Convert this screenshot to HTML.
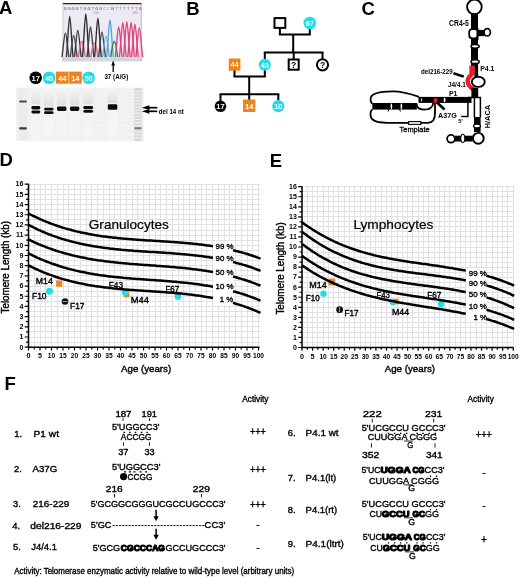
<!DOCTYPE html>
<html><head><meta charset="utf-8"><style>
html,body{margin:0;padding:0;background:#fff;width:520px;height:577px;overflow:hidden}
svg{display:block;filter:blur(0.3px);font-family:"Liberation Sans", sans-serif}
</style></head><body>
<svg width="520" height="577" viewBox="0 0 520 577">
<rect width="520" height="577" fill="#fff"/>
<text x="-1" y="14.4" font-size="18.5" font-weight="bold" text-anchor="start" fill="#000" >A</text>
<text x="186.3" y="14.6" font-size="18.5" font-weight="bold" text-anchor="start" fill="#000" >B</text>
<text x="361.6" y="15" font-size="18.5" font-weight="bold" text-anchor="start" fill="#000" >C</text>
<text x="-0.5" y="166.2" font-size="18.5" font-weight="bold" text-anchor="start" fill="#000" >D</text>
<text x="269.8" y="166.5" font-size="18.5" font-weight="bold" text-anchor="start" fill="#000" >E</text>
<text x="4.6" y="389.5" font-size="18.5" font-weight="bold" text-anchor="start" fill="#000" >F</text>
<defs><filter id="bl3" x="-5%" y="-5%" width="110%" height="110%"><feGaussianBlur stdDeviation="0.35"/></filter></defs>
<rect x="62.7" y="3.5" width="78.8" height="57.8" fill="#ebeaf5"/>
<rect x="62.7" y="57.6" width="78.8" height="3.7" fill="#d2d5da"/>
<line x1="62.7" y1="3.6" x2="141.5" y2="3.6" stroke="#222" stroke-width="1.4"/>
<line x1="141.2" y1="3.5" x2="141.2" y2="61" stroke="#aaa" stroke-width="0.8"/>
<line x1="62.9" y1="3.5" x2="62.9" y2="61" stroke="#bbb" stroke-width="0.6"/>
<text x="65.2" y="9.8" font-size="3.8" font-weight="bold" text-anchor="middle" fill="#707088" >G</text>
<text x="69.15" y="9.8" font-size="3.8" font-weight="bold" text-anchor="middle" fill="#707088" >G</text>
<text x="73.1" y="9.8" font-size="3.8" font-weight="bold" text-anchor="middle" fill="#707088" >G</text>
<text x="77.05" y="9.8" font-size="3.8" font-weight="bold" text-anchor="middle" fill="#707088" >G</text>
<text x="81.0" y="9.8" font-size="3.8" font-weight="bold" text-anchor="middle" fill="#d0789a" >T</text>
<text x="84.95" y="9.8" font-size="3.8" font-weight="bold" text-anchor="middle" fill="#707088" >G</text>
<text x="88.9" y="9.8" font-size="3.8" font-weight="bold" text-anchor="middle" fill="#707088" >G</text>
<text x="92.85" y="9.8" font-size="3.8" font-weight="bold" text-anchor="middle" fill="#d0789a" >T</text>
<text x="96.8" y="9.8" font-size="3.8" font-weight="bold" text-anchor="middle" fill="#707088" >G</text>
<text x="100.75" y="9.8" font-size="3.8" font-weight="bold" text-anchor="middle" fill="#707088" >G</text>
<text x="104.7" y="9.8" font-size="3.8" font-weight="bold" text-anchor="middle" fill="#8cb8dc" >C</text>
<text x="108.65" y="9.8" font-size="3.8" font-weight="bold" text-anchor="middle" fill="#8cb8dc" >C</text>
<text x="112.6" y="9.8" font-size="3.8" font-weight="bold" text-anchor="middle" fill="#707088" >N</text>
<text x="116.55" y="9.8" font-size="3.8" font-weight="bold" text-anchor="middle" fill="#d0789a" >T</text>
<text x="120.5" y="9.8" font-size="3.8" font-weight="bold" text-anchor="middle" fill="#d0789a" >T</text>
<text x="124.45" y="9.8" font-size="3.8" font-weight="bold" text-anchor="middle" fill="#d0789a" >T</text>
<text x="128.4" y="9.8" font-size="3.8" font-weight="bold" text-anchor="middle" fill="#d0789a" >T</text>
<text x="132.35" y="9.8" font-size="3.8" font-weight="bold" text-anchor="middle" fill="#d0789a" >T</text>
<text x="136.3" y="9.8" font-size="3.8" font-weight="bold" text-anchor="middle" fill="#d0789a" >T</text>
<text x="140.25" y="9.8" font-size="3.8" font-weight="bold" text-anchor="middle" fill="#707088" >G</text>
<text x="96" y="13.6" font-size="3.6" text-anchor="middle" fill="#d87a9a" >230</text>
<text x="135" y="13.6" font-size="3.6" text-anchor="middle" fill="#d87a9a" >180</text>
<g filter="url(#bl3)"><path d="M62.00000000000001,57.2 C63.45,45.2 64.4,33 65.4,33 C66.4,33 67.35000000000001,45.2 68.8,57.2" fill="none" stroke="#3a3a3a" stroke-width="1.35"/><path d="M66.30000000000001,57.2 C67.75,45.2 68.7,16.4 69.7,16.4 C70.7,16.4 71.65,45.2 73.1,57.2" fill="none" stroke="#333" stroke-width="1.35"/><path d="M70.30000000000001,57.2 C71.75,45.2 72.7,35.5 73.7,35.5 C74.7,35.5 75.65,45.2 77.1,57.2" fill="none" stroke="#4a4a4a" stroke-width="1.35"/><path d="M74.4,57.2 C75.85,45.2 76.8,30.3 77.8,30.3 C78.8,30.3 79.75,45.2 81.19999999999999,57.2" fill="none" stroke="#3a3a3a" stroke-width="1.35"/><path d="M78.4,57.2 C79.85,45.2 80.8,41.5 81.8,41.5 C82.8,41.5 83.75,45.2 85.19999999999999,57.2" fill="none" stroke="#e0608a" stroke-width="1.35"/><path d="M82.4,57.2 C83.85,45.2 84.8,13.8 85.8,13.8 C86.8,13.8 87.75,45.2 89.19999999999999,57.2" fill="none" stroke="#2a2a2a" stroke-width="1.35"/><path d="M87.10000000000001,57.2 C88.55,45.2 89.5,26.8 90.5,26.8 C91.5,26.8 92.45,45.2 93.89999999999999,57.2" fill="none" stroke="#444" stroke-width="1.35"/><path d="M91.00000000000001,57.2 C92.45,45.2 93.4,43 94.4,43 C95.4,43 96.35000000000001,45.2 97.8,57.2" fill="none" stroke="#e0608a" stroke-width="1.35"/><path d="M94.50000000000001,57.2 C95.95,45.2 96.9,18.2 97.9,18.2 C98.9,18.2 99.85000000000001,45.2 101.3,57.2" fill="none" stroke="#2a2a2a" stroke-width="1.35"/><path d="M98.60000000000001,57.2 C100.05,45.2 101.0,32 102,32 C103.0,32 103.95,45.2 105.39999999999999,57.2" fill="none" stroke="#444" stroke-width="1.35"/><path d="M102.60000000000001,57.2 C104.05,45.2 105.0,36.3 106,36.3 C107.0,36.3 107.95,45.2 109.39999999999999,57.2" fill="none" stroke="#5fb0e0" stroke-width="1.35"/><path d="M106.60000000000001,57.2 C108.05,45.2 109.0,19.9 110,19.9 C111.0,19.9 111.95,45.2 113.39999999999999,57.2" fill="none" stroke="#4aa8e0" stroke-width="1.35"/><path d="M110.80000000000001,57.2 C112.25,45.2 113.2,41.5 114.2,41.5 C115.2,41.5 116.15,45.2 117.6,57.2" fill="none" stroke="#1f8a30" stroke-width="1.35"/><path d="M115.30000000000001,57.2 C116.75,45.2 117.7,26.8 118.7,26.8 C119.7,26.8 120.65,45.2 122.1,57.2" fill="none" stroke="#e0457a" stroke-width="1.35"/><path d="M119.4,57.2 C120.85,45.2 121.8,22.5 122.8,22.5 C123.8,22.5 124.75,45.2 126.19999999999999,57.2" fill="none" stroke="#e0457a" stroke-width="1.35"/><path d="M123.4,57.2 C124.85,45.2 125.8,21.6 126.8,21.6 C127.8,21.6 128.75,45.2 130.20000000000002,57.2" fill="none" stroke="#e0457a" stroke-width="1.35"/><path d="M127.7,57.2 C129.15,45.2 130.1,22.5 131.1,22.5 C132.1,22.5 133.04999999999998,45.2 134.5,57.2" fill="none" stroke="#e0457a" stroke-width="1.35"/><path d="M131.5,57.2 C132.95000000000002,45.2 133.9,24.2 134.9,24.2 C135.9,24.2 136.85,45.2 138.3,57.2" fill="none" stroke="#e0457a" stroke-width="1.35"/><path d="M135.9,57.2 C137.35000000000002,45.2 138.3,27.7 139.3,27.7 C140.3,27.7 141.25,45.2 142.70000000000002,57.2" fill="none" stroke="#e0457a" stroke-width="1.35"/></g>
<line x1="113.2" y1="64" x2="113.2" y2="72" stroke="#000" stroke-width="1.3"/>
<path d="M113.2,60.5 L111.3,65.5 L115.1,65.5 Z" fill="#000"/>
<text x="104.4" y="79.4" font-size="7.8" font-weight="bold" text-anchor="start" fill="#000" textLength="23.9" lengthAdjust="spacingAndGlyphs" >37 (A/G)</text>
<defs><linearGradient id="lane" x1="0" y1="0" x2="0" y2="1"><stop offset="0" stop-color="#f6f6f6"/><stop offset="0.55" stop-color="#e9e9e9"/><stop offset="1" stop-color="#dedede"/></linearGradient><filter id="blur05" x="-5%" y="-5%" width="110%" height="110%"><feGaussianBlur stdDeviation="0.5"/></filter></defs>
<rect x="16" y="87.5" width="127.8" height="53.8" fill="#f3f3f3"/>
<g filter="url(#blur05)"><rect x="16" y="89.5" width="127.8" height="0.7" fill="#ededed"/><rect x="16" y="92.0" width="127.8" height="0.7" fill="#ededed"/><rect x="16" y="94.5" width="127.8" height="0.7" fill="#ededed"/><rect x="16" y="97.0" width="127.8" height="0.7" fill="#ededed"/><rect x="16" y="99.5" width="127.8" height="0.7" fill="#ededed"/><rect x="16" y="102.0" width="127.8" height="0.7" fill="#ededed"/><rect x="16" y="104.5" width="127.8" height="0.7" fill="#ededed"/><rect x="16" y="107.0" width="127.8" height="0.7" fill="#ededed"/><rect x="16" y="109.5" width="127.8" height="0.7" fill="#ededed"/><rect x="16" y="112.0" width="127.8" height="0.7" fill="#ededed"/><rect x="16" y="114.5" width="127.8" height="0.7" fill="#ededed"/><rect x="16" y="117.0" width="127.8" height="0.7" fill="#ededed"/><rect x="16" y="119.5" width="127.8" height="0.7" fill="#ededed"/><rect x="16" y="122.0" width="127.8" height="0.7" fill="#ededed"/><rect x="16" y="124.5" width="127.8" height="0.7" fill="#ededed"/><rect x="16" y="127.0" width="127.8" height="0.7" fill="#ededed"/><rect x="16" y="129.5" width="127.8" height="0.7" fill="#ededed"/><rect x="16" y="132.0" width="127.8" height="0.7" fill="#ededed"/><rect x="16" y="134.5" width="127.8" height="0.7" fill="#ededed"/><rect x="16" y="137.0" width="127.8" height="0.7" fill="#ededed"/><rect x="16" y="139.5" width="127.8" height="0.7" fill="#ededed"/><rect x="31.3" y="88" width="9.099999999999998" height="16.5" fill="url(#lane)"/><rect x="31.3" y="104.5" width="9.099999999999998" height="36.5" fill="#f4f4f4"/><rect x="43.8" y="88" width="9.800000000000004" height="18.5" fill="url(#lane)"/><rect x="43.8" y="106.5" width="9.800000000000004" height="34.5" fill="#f4f4f4"/><rect x="56.9" y="88" width="9.500000000000007" height="17.5" fill="url(#lane)"/><rect x="56.9" y="105.5" width="9.500000000000007" height="35.5" fill="#f4f4f4"/><rect x="69.9" y="88" width="9.5" height="17.5" fill="url(#lane)"/><rect x="69.9" y="105.5" width="9.5" height="35.5" fill="#f4f4f4"/><rect x="83.2" y="88" width="10.0" height="16.5" fill="url(#lane)"/><rect x="83.2" y="104.5" width="10.0" height="36.5" fill="#f4f4f4"/><rect x="107.6" y="88" width="9.800000000000011" height="15" fill="url(#lane)"/><rect x="107.6" y="103" width="9.800000000000011" height="38" fill="#f4f4f4"/><rect x="18.5" y="88" width="9" height="52" fill="#ececec"/><rect x="19.2" y="100.5" width="7.6" height="2" rx="0.8" fill="#4a4a4a"/><rect x="19.2" y="127.3" width="7.6" height="2.2" rx="0.8" fill="#3a3a3a"/><rect x="31.4" y="105.9" width="8.899999999999999" height="3.5" rx="1.4" fill="#0c0c0c"/><rect x="31.4" y="110.5" width="8.899999999999999" height="2.9000000000000057" rx="1.4" fill="#0c0c0c"/><rect x="44" y="107.7" width="9.600000000000001" height="2.799999999999997" rx="1.4" fill="#0c0c0c"/><rect x="44" y="111.3" width="9.600000000000001" height="2.700000000000003" rx="1.4" fill="#0c0c0c"/><rect x="57" y="106.5" width="9.400000000000006" height="4.5" rx="1.4" fill="#0c0c0c"/><rect x="70" y="106.5" width="9.299999999999997" height="4.5" rx="1.4" fill="#0c0c0c"/><rect x="83.3" y="106" width="9.799999999999997" height="3.200000000000003" rx="1.4" fill="#0c0c0c"/><rect x="83.3" y="109.9" width="9.799999999999997" height="2.799999999999997" rx="1.4" fill="#0c0c0c"/><rect x="107.8" y="104.2" width="9.5" height="5.599999999999994" rx="1.4" fill="#0c0c0c"/><rect x="134.2" y="88" width="7.6" height="53.2" fill="#d9d9d9"/><rect x="134.2" y="91.0" width="7.6" height="1.1" fill="#f0f0f0"/><rect x="134.2" y="94.1" width="7.6" height="1.1" fill="#f0f0f0"/><rect x="134.2" y="97.2" width="7.6" height="1.1" fill="#f0f0f0"/><rect x="134.2" y="100.3" width="7.6" height="1.1" fill="#f0f0f0"/><rect x="134.2" y="103.4" width="7.6" height="1.1" fill="#f0f0f0"/><rect x="134.2" y="106.5" width="7.6" height="1.1" fill="#f0f0f0"/><rect x="134.2" y="109.6" width="7.6" height="1.1" fill="#f0f0f0"/><rect x="134.2" y="112.7" width="7.6" height="1.1" fill="#f0f0f0"/><rect x="134.2" y="115.8" width="7.6" height="1.1" fill="#f0f0f0"/><rect x="134.2" y="118.9" width="7.6" height="1.1" fill="#f0f0f0"/><rect x="134.2" y="122.0" width="7.6" height="1.1" fill="#f0f0f0"/><rect x="134.2" y="125.1" width="7.6" height="1.1" fill="#f0f0f0"/><rect x="134.2" y="128.2" width="7.6" height="1.1" fill="#f0f0f0"/><rect x="134.2" y="131.3" width="7.6" height="1.1" fill="#f0f0f0"/><rect x="134.2" y="134.4" width="7.6" height="1.1" fill="#f0f0f0"/><rect x="134.2" y="137.5" width="7.6" height="1.1" fill="#f0f0f0"/><rect x="134.4" y="127.3" width="7.2" height="1.9" fill="#777"/></g>
<line x1="148" y1="107.7" x2="157.3" y2="107.7" stroke="#000" stroke-width="1.7"/>
<path d="M141.9,107.7 L149.3,105.3 L149.3,110.10000000000001 Z" fill="#000"/>
<line x1="148" y1="111.3" x2="157.3" y2="111.3" stroke="#000" stroke-width="1.7"/>
<path d="M141.9,111.3 L149.3,108.89999999999999 L149.3,113.7 Z" fill="#000"/>
<text x="158.8" y="113.9" font-size="7.3" font-weight="bold" text-anchor="start" fill="#000" textLength="25" lengthAdjust="spacingAndGlyphs" >del 14 nt</text>
<circle cx="35.7" cy="77.7" r="6.3" fill="#000"/>
<text x="35.7" y="80.5" font-size="7.5" font-weight="bold" text-anchor="middle" fill="#fff" >17</text>
<circle cx="49.1" cy="77.7" r="6.3" fill="#22dde8"/>
<text x="49.1" y="80.5" font-size="7.5" font-weight="bold" text-anchor="middle" fill="#fff" >40</text>
<rect x="55.8" y="71.6" width="26" height="12.1" fill="#f0841c"/>
<line x1="68.8" y1="71.6" x2="68.8" y2="83.7" stroke="#fff" stroke-width="0.5"/>
<text x="62.3" y="80.5" font-size="7.5" font-weight="bold" text-anchor="middle" fill="#fff" >44</text>
<text x="75.3" y="80.5" font-size="7.5" font-weight="bold" text-anchor="middle" fill="#fff" >14</text>
<circle cx="88.6" cy="77.7" r="6.3" fill="#22dde8"/>
<text x="88.6" y="80.5" font-size="7.5" font-weight="bold" text-anchor="middle" fill="#fff" >50</text>
<line x1="279.9" y1="28" x2="279.9" y2="34.4" stroke="#000" stroke-width="2"/>
<line x1="309.8" y1="28.5" x2="309.8" y2="34.4" stroke="#000" stroke-width="2"/>
<line x1="278.9" y1="34.4" x2="310.8" y2="34.4" stroke="#000" stroke-width="2"/>
<rect x="274.5" y="18.1" width="10.8" height="9.8" fill="#fff" stroke="#000" stroke-width="2"/>
<circle cx="309.8" cy="23" r="6.3" fill="#22dde8"/>
<text x="309.8" y="25.8" font-size="7.5" font-weight="bold" text-anchor="middle" fill="#fff" >67</text>
<line x1="293.2" y1="34.4" x2="293.2" y2="52.5" stroke="#000" stroke-width="2"/>
<line x1="263.8" y1="52.5" x2="323.5" y2="52.5" stroke="#000" stroke-width="2"/>
<line x1="264.8" y1="52.5" x2="264.8" y2="59" stroke="#000" stroke-width="2"/>
<line x1="293.7" y1="52.5" x2="293.7" y2="59" stroke="#000" stroke-width="2"/>
<line x1="322.5" y1="52.5" x2="322.5" y2="59" stroke="#000" stroke-width="2"/>
<rect x="228.8" y="58.5" width="11.6" height="12.2" fill="#f0841c"/>
<text x="234.6" y="67.4" font-size="7.5" font-weight="bold" text-anchor="middle" fill="#fff" >44</text>
<circle cx="264.8" cy="64.8" r="6.1" fill="#22dde8"/>
<text x="264.8" y="67.6" font-size="7.5" font-weight="bold" text-anchor="middle" fill="#fff" >43</text>
<rect x="288.7" y="59.5" width="10" height="10.2" fill="#fff" stroke="#000" stroke-width="2"/>
<text x="293.7" y="67.8" font-size="8.5" font-weight="bold" text-anchor="middle" fill="#000" >?</text>
<circle cx="322.5" cy="64.8" r="5.6" fill="#fff" stroke="#000" stroke-width="2"/>
<text x="322.5" y="67.8" font-size="8.5" font-weight="bold" text-anchor="middle" fill="#000" >?</text>
<line x1="234.5" y1="70.5" x2="234.5" y2="76.5" stroke="#000" stroke-width="2"/>
<line x1="264.8" y1="70.5" x2="264.8" y2="76.5" stroke="#000" stroke-width="2"/>
<line x1="233.5" y1="76.5" x2="265.8" y2="76.5" stroke="#000" stroke-width="2"/>
<line x1="249.2" y1="76.5" x2="249.2" y2="94.2" stroke="#000" stroke-width="2"/>
<line x1="219.5" y1="94.2" x2="279.3" y2="94.2" stroke="#000" stroke-width="2"/>
<line x1="220.5" y1="94.2" x2="220.5" y2="101" stroke="#000" stroke-width="2"/>
<line x1="249.2" y1="94.2" x2="249.2" y2="100" stroke="#000" stroke-width="2"/>
<line x1="278.3" y1="94.2" x2="278.3" y2="100.5" stroke="#000" stroke-width="2"/>
<circle cx="220.5" cy="106.3" r="5.8" fill="#000"/>
<text x="220.5" y="109.1" font-size="7.5" font-weight="bold" text-anchor="middle" fill="#fff" >17</text>
<rect x="243" y="99.5" width="12.4" height="12.5" fill="#f0841c"/>
<text x="249.2" y="108.6" font-size="7.5" font-weight="bold" text-anchor="middle" fill="#fff" >14</text>
<circle cx="278.3" cy="106.1" r="6.1" fill="#22dde8"/>
<text x="278.3" y="108.9" font-size="7.5" font-weight="bold" text-anchor="middle" fill="#fff" >10</text>
<circle cx="474.4" cy="6.9" r="7.3" fill="#fff" stroke="#000" stroke-width="1.9"/>
<rect x="471" y="13.6" width="7" height="16" fill="#000"/>
<rect x="469.2" y="29" width="8.6" height="9.3" rx="3" fill="#fff" stroke="#000" stroke-width="1.75"/>
<rect x="476.6" y="28" width="1.9" height="12" fill="#000"/>
<rect x="478" y="29.9" width="6.6" height="6.2" fill="#000"/>
<ellipse cx="487.2" cy="32.3" rx="3.2" ry="3.7" fill="#fff" stroke="#000" stroke-width="1.7"/>
<rect x="471" y="38" width="7" height="28" fill="#000"/>
<ellipse cx="475.1" cy="46.3" rx="4.1" ry="1.9" fill="#fff" stroke="#000" stroke-width="1.5"/>
<ellipse cx="475.1" cy="61.7" rx="4.1" ry="1.9" fill="#fff" stroke="#000" stroke-width="1.5"/>
<rect x="474.3" y="64.5" width="3.8" height="13" fill="#000"/>
<rect x="469.4" y="65.6" width="5.1" height="10" fill="#ec1c24"/>
<ellipse cx="478.3" cy="81.8" rx="6.5" ry="5.1" fill="#fff" stroke="#000" stroke-width="1.9"/>
<path d="M471.9,74.5 C465.8,78.5 466.2,85.5 474,89.6" fill="none" stroke="#ec1c24" stroke-width="4.3"/>
<rect x="471.4" y="87.8" width="6.8" height="10" fill="#000"/>
<rect x="418.5" y="96.9" width="53" height="6" fill="#000"/>
<ellipse cx="444.6" cy="99.9" rx="0.9" ry="2.3" fill="#fff"/>
<ellipse cx="421.6" cy="99.9" rx="0.5" ry="1.8" fill="#fff"/>
<rect x="433.8" y="98.4" width="3.6" height="4.6" fill="#ec1c24"/>
<line x1="436.5" y1="102" x2="444.5" y2="109.5" stroke="#000" stroke-width="2.6"/>
<path d="M461.2,116.4 L467.9,116.4 L467.9,98" fill="none" stroke="#000" stroke-width="1.5"/>
<path d="M468.2,97.6 L480.4,97.6 L480.4,117.5 M474.4,97.6 L474.4,117.5" fill="none" stroke="#000" stroke-width="1.5"/>
<rect x="474" y="117" width="6.6" height="15" fill="#000"/>
<ellipse cx="477" cy="126" rx="3.5" ry="1.9" fill="#fff" stroke="#000" stroke-width="1.2"/>
<circle cx="478.3" cy="138.3" r="5.4" fill="#fff" stroke="#000" stroke-width="1.9"/>
<rect x="455" y="135.7" width="17.5" height="5.8" fill="#000"/>
<ellipse cx="462.8" cy="138.4" rx="2" ry="4.1" fill="#fff" stroke="#000" stroke-width="1.1"/>
<circle cx="451" cy="138.8" r="3.9" fill="#fff" stroke="#000" stroke-width="1.8"/>
<path d="M419,96.9 C410,93.5 402,91.3 392.5,91.3 C380,91.3 370.6,93.5 370.6,99 C370.6,102 371.5,103.3 372.5,103.6" fill="none" stroke="#000" stroke-width="1.8"/>
<rect x="372.3" y="103" width="44.5" height="6.6" fill="#000"/>
<ellipse cx="391.4" cy="106.3" rx="0.8" ry="3.1" fill="#fff"/>
<ellipse cx="401.4" cy="106.3" rx="0.8" ry="3.1" fill="#fff"/>
<path d="M389,109.5 L388,111.5 M399.5,109.5 L400.5,111.5" stroke="#000" stroke-width="1"/>
<path d="M416.5,103.3 C416.5,108 419,109.6 424,109.6 C429,109.6 432.8,107.5 433.2,103" fill="none" stroke="#000" stroke-width="1.8"/>
<path d="M372.5,109.5 C370.6,110.5 370.3,113 370.6,116 C371.5,121 377,122.8 392,122.8 L408.3,122.8" fill="none" stroke="#000" stroke-width="1.8"/>
<path d="M421,122.8 L428,122.8 C432.5,122.8 435,119 435,113 L435,103" fill="none" stroke="#000" stroke-width="1.8"/>
<rect x="408.6" y="121.6" width="12.2" height="2.8" fill="#fff" stroke="#000" stroke-width="1.1"/>
<line x1="453.5" y1="73.2" x2="463.8" y2="76.6" stroke="#000" stroke-width="2.5"/>
<text x="449.1" y="25.9" font-size="8.2" font-weight="bold" text-anchor="start" fill="#000" textLength="19.7" lengthAdjust="spacingAndGlyphs" >CR4-5</text>
<text x="480.2" y="71.4" font-size="7.6" font-weight="bold" text-anchor="start" fill="#000" textLength="14.2" lengthAdjust="spacingAndGlyphs" >P4.1</text>
<text x="421" y="74.3" font-size="7.8" font-weight="bold" text-anchor="start" fill="#000" textLength="31.7" lengthAdjust="spacingAndGlyphs" >del216-229</text>
<text x="448" y="86.6" font-size="7.8" font-weight="bold" text-anchor="start" fill="#000" textLength="17.8" lengthAdjust="spacingAndGlyphs" >J4/4.1</text>
<text x="448.9" y="95.9" font-size="7.8" font-weight="bold" text-anchor="start" fill="#000" textLength="8.6" lengthAdjust="spacingAndGlyphs" >P1</text>
<text x="438.1" y="117.7" font-size="7.8" font-weight="bold" text-anchor="start" fill="#000" textLength="18.8" lengthAdjust="spacingAndGlyphs" >A37G</text>
<text x="458.3" y="123.2" font-size="5.8" font-weight="bold" text-anchor="start" fill="#000" >5'</text>
<text x="399.6" y="131.6" font-size="7.8" text-anchor="start" fill="#000" textLength="30" lengthAdjust="spacingAndGlyphs" stroke="#000" stroke-width="0.3">Template</text>
<text x="0" y="0" font-size="7.8" font-weight="bold" textLength="23.5" lengthAdjust="spacingAndGlyphs" transform="translate(489.7,128.3) rotate(-90)">H/ACA</text>
<path d="M28.50,184.16V347.20M34.25,184.16V347.20M40.00,184.16V347.20M45.75,184.16V347.20M51.50,184.16V347.20M57.25,184.16V347.20M63.00,184.16V347.20M68.75,184.16V347.20M74.50,184.16V347.20M80.25,184.16V347.20M86.00,184.16V347.20M91.75,184.16V347.20M97.50,184.16V347.20M103.25,184.16V347.20M109.00,184.16V347.20M114.75,184.16V347.20M120.50,184.16V347.20M126.25,184.16V347.20M132.00,184.16V347.20M137.75,184.16V347.20M143.50,184.16V347.20M149.25,184.16V347.20M155.00,184.16V347.20M160.75,184.16V347.20M166.50,184.16V347.20M172.25,184.16V347.20M178.00,184.16V347.20M183.75,184.16V347.20M189.50,184.16V347.20M195.25,184.16V347.20M201.00,184.16V347.20M206.75,184.16V347.20M212.50,184.16V347.20M218.25,184.16V347.20M224.00,184.16V347.20M229.75,184.16V347.20M235.50,184.16V347.20M241.25,184.16V347.20M247.00,184.16V347.20M252.75,184.16V347.20M258.50,184.16V347.20M28.50,347.20H259.50M28.50,342.10H259.50M28.50,337.01H259.50M28.50,331.91H259.50M28.50,326.82H259.50M28.50,321.72H259.50M28.50,316.63H259.50M28.50,311.53H259.50M28.50,306.44H259.50M28.50,301.34H259.50M28.50,296.25H259.50M28.50,291.15H259.50M28.50,286.06H259.50M28.50,280.96H259.50M28.50,275.87H259.50M28.50,270.77H259.50M28.50,265.68H259.50M28.50,260.58H259.50M28.50,255.49H259.50M28.50,250.39H259.50M28.50,245.30H259.50M28.50,240.20H259.50M28.50,235.11H259.50M28.50,230.01H259.50M28.50,224.92H259.50M28.50,219.82H259.50M28.50,214.73H259.50M28.50,209.63H259.50M28.50,204.54H259.50M28.50,199.44H259.50M28.50,194.35H259.50M28.50,189.25H259.50M28.50,184.16H259.50" stroke="#dfe2e5" stroke-width="1" fill="none" shape-rendering="crispEdges"/>
<path d="M28.5,183.66V347.2H259.5" stroke="#000" stroke-width="1.5" fill="none"/>
<path d="M24.70,347.20H28.5M26.10,342.10H28.5M24.70,337.01H28.5M26.10,331.91H28.5M24.70,326.82H28.5M26.10,321.72H28.5M24.70,316.63H28.5M26.10,311.53H28.5M24.70,306.44H28.5M26.10,301.34H28.5M24.70,296.25H28.5M26.10,291.15H28.5M24.70,286.06H28.5M26.10,280.96H28.5M24.70,275.87H28.5M26.10,270.77H28.5M24.70,265.68H28.5M26.10,260.58H28.5M24.70,255.49H28.5M26.10,250.39H28.5M24.70,245.30H28.5M26.10,240.20H28.5M24.70,235.11H28.5M26.10,230.01H28.5M24.70,224.92H28.5M26.10,219.82H28.5M24.70,214.73H28.5M26.10,209.63H28.5M24.70,204.54H28.5M26.10,199.44H28.5M24.70,194.35H28.5M26.10,189.25H28.5M24.70,184.16H28.5M28.50,347.2V350.50M34.25,347.2V349.50M40.00,347.2V350.50M45.75,347.2V349.50M51.50,347.2V350.50M57.25,347.2V349.50M63.00,347.2V350.50M68.75,347.2V349.50M74.50,347.2V350.50M80.25,347.2V349.50M86.00,347.2V350.50M91.75,347.2V349.50M97.50,347.2V350.50M103.25,347.2V349.50M109.00,347.2V350.50M114.75,347.2V349.50M120.50,347.2V350.50M126.25,347.2V349.50M132.00,347.2V350.50M137.75,347.2V349.50M143.50,347.2V350.50M149.25,347.2V349.50M155.00,347.2V350.50M160.75,347.2V349.50M166.50,347.2V350.50M172.25,347.2V349.50M178.00,347.2V350.50M183.75,347.2V349.50M189.50,347.2V350.50M195.25,347.2V349.50M201.00,347.2V350.50M206.75,347.2V349.50M212.50,347.2V350.50M218.25,347.2V349.50M224.00,347.2V350.50M229.75,347.2V349.50M235.50,347.2V350.50M241.25,347.2V349.50M247.00,347.2V350.50M252.75,347.2V349.50M258.50,347.2V350.50" stroke="#000" stroke-width="1.2" fill="none"/>
<text x="23.3" y="349.5" font-size="7" font-weight="bold" text-anchor="end" fill="#000" >0</text>
<text x="23.3" y="339.31" font-size="7" font-weight="bold" text-anchor="end" fill="#000" >1</text>
<text x="23.3" y="329.12" font-size="7" font-weight="bold" text-anchor="end" fill="#000" >2</text>
<text x="23.3" y="318.93" font-size="7" font-weight="bold" text-anchor="end" fill="#000" >3</text>
<text x="23.3" y="308.74" font-size="7" font-weight="bold" text-anchor="end" fill="#000" >4</text>
<text x="23.3" y="298.55" font-size="7" font-weight="bold" text-anchor="end" fill="#000" >5</text>
<text x="23.3" y="288.36" font-size="7" font-weight="bold" text-anchor="end" fill="#000" >6</text>
<text x="23.3" y="278.17" font-size="7" font-weight="bold" text-anchor="end" fill="#000" >7</text>
<text x="23.3" y="267.98" font-size="7" font-weight="bold" text-anchor="end" fill="#000" >8</text>
<text x="23.3" y="257.79" font-size="7" font-weight="bold" text-anchor="end" fill="#000" >9</text>
<text x="23.3" y="247.6" font-size="7" font-weight="bold" text-anchor="end" fill="#000" >10</text>
<text x="23.3" y="237.41" font-size="7" font-weight="bold" text-anchor="end" fill="#000" >11</text>
<text x="23.3" y="227.22" font-size="7" font-weight="bold" text-anchor="end" fill="#000" >12</text>
<text x="23.3" y="217.03" font-size="7" font-weight="bold" text-anchor="end" fill="#000" >13</text>
<text x="23.3" y="206.84" font-size="7" font-weight="bold" text-anchor="end" fill="#000" >14</text>
<text x="23.3" y="196.65" font-size="7" font-weight="bold" text-anchor="end" fill="#000" >15</text>
<text x="23.3" y="186.46" font-size="7" font-weight="bold" text-anchor="end" fill="#000" >16</text>
<text x="28.5" y="358.4" font-size="7.2" font-weight="bold" text-anchor="middle" fill="#000" >0</text>
<text x="40.0" y="358.4" font-size="7.2" font-weight="bold" text-anchor="middle" fill="#000" >5</text>
<text x="51.5" y="358.4" font-size="7.2" font-weight="bold" text-anchor="middle" fill="#000" textLength="7.4" lengthAdjust="spacingAndGlyphs" >10</text>
<text x="63.0" y="358.4" font-size="7.2" font-weight="bold" text-anchor="middle" fill="#000" textLength="7.4" lengthAdjust="spacingAndGlyphs" >15</text>
<text x="74.5" y="358.4" font-size="7.2" font-weight="bold" text-anchor="middle" fill="#000" textLength="7.4" lengthAdjust="spacingAndGlyphs" >20</text>
<text x="86.0" y="358.4" font-size="7.2" font-weight="bold" text-anchor="middle" fill="#000" textLength="7.4" lengthAdjust="spacingAndGlyphs" >25</text>
<text x="97.5" y="358.4" font-size="7.2" font-weight="bold" text-anchor="middle" fill="#000" textLength="7.4" lengthAdjust="spacingAndGlyphs" >30</text>
<text x="109.0" y="358.4" font-size="7.2" font-weight="bold" text-anchor="middle" fill="#000" textLength="7.4" lengthAdjust="spacingAndGlyphs" >35</text>
<text x="120.5" y="358.4" font-size="7.2" font-weight="bold" text-anchor="middle" fill="#000" textLength="7.4" lengthAdjust="spacingAndGlyphs" >40</text>
<text x="132.0" y="358.4" font-size="7.2" font-weight="bold" text-anchor="middle" fill="#000" textLength="7.4" lengthAdjust="spacingAndGlyphs" >45</text>
<text x="143.5" y="358.4" font-size="7.2" font-weight="bold" text-anchor="middle" fill="#000" textLength="7.4" lengthAdjust="spacingAndGlyphs" >50</text>
<text x="155.0" y="358.4" font-size="7.2" font-weight="bold" text-anchor="middle" fill="#000" textLength="7.4" lengthAdjust="spacingAndGlyphs" >55</text>
<text x="166.5" y="358.4" font-size="7.2" font-weight="bold" text-anchor="middle" fill="#000" textLength="7.4" lengthAdjust="spacingAndGlyphs" >60</text>
<text x="178.0" y="358.4" font-size="7.2" font-weight="bold" text-anchor="middle" fill="#000" textLength="7.4" lengthAdjust="spacingAndGlyphs" >65</text>
<text x="189.5" y="358.4" font-size="7.2" font-weight="bold" text-anchor="middle" fill="#000" textLength="7.4" lengthAdjust="spacingAndGlyphs" >70</text>
<text x="201.0" y="358.4" font-size="7.2" font-weight="bold" text-anchor="middle" fill="#000" textLength="7.4" lengthAdjust="spacingAndGlyphs" >75</text>
<text x="212.5" y="358.4" font-size="7.2" font-weight="bold" text-anchor="middle" fill="#000" textLength="7.4" lengthAdjust="spacingAndGlyphs" >80</text>
<text x="224.0" y="358.4" font-size="7.2" font-weight="bold" text-anchor="middle" fill="#000" textLength="7.4" lengthAdjust="spacingAndGlyphs" >85</text>
<text x="235.5" y="358.4" font-size="7.2" font-weight="bold" text-anchor="middle" fill="#000" textLength="7.4" lengthAdjust="spacingAndGlyphs" >90</text>
<text x="247.0" y="358.4" font-size="7.2" font-weight="bold" text-anchor="middle" fill="#000" textLength="7.4" lengthAdjust="spacingAndGlyphs" >95</text>
<text x="258.5" y="358.4" font-size="7.2" font-weight="bold" text-anchor="middle" fill="#000" textLength="11" lengthAdjust="spacingAndGlyphs" >100</text>
<text x="88.8" y="228.8" font-size="13.5" text-anchor="start" fill="#000" textLength="80" lengthAdjust="spacingAndGlyphs" stroke="#000" stroke-width="0.22">Granulocytes</text>
<rect x="56.1" y="280.5" width="6.2" height="6.2" fill="#f0841c"/>
<circle cx="49.5" cy="291.2" r="3.5" fill="#22dde8"/>
<circle cx="65" cy="301.5" r="3.3" fill="#111"/><line x1="62.5" y1="301.5" x2="67.5" y2="301.5" stroke="#fff" stroke-width="0.6"/>
<circle cx="125.2" cy="292.6" r="3.3" fill="#22dde8"/>
<rect x="123.85" y="291.85" width="5.5" height="5.5" fill="#f0841c"/>
<circle cx="125.4" cy="292.3" r="3.2" fill="#22dde8"/>
<circle cx="178" cy="296.5" r="3.4" fill="#22dde8"/>
<rect x="213" y="241" width="20.30000000000001" height="64.5" fill="#fff"/>
<path d="M28.5,213.5 L30.0,214.3 L31.5,215.0 L33.0,215.8 L34.5,216.5 L36.0,217.2 L37.5,217.9 L39.0,218.6 L40.5,219.3 L42.0,219.9 L43.5,220.6 L45.0,221.2 L46.5,221.8 L48.0,222.4 L49.5,223.0 L51.0,223.6 L52.5,224.1 L54.0,224.7 L55.5,225.2 L57.0,225.7 L58.5,226.2 L60.0,226.7 L61.5,227.2 L63.0,227.7 L64.5,228.1 L66.0,228.6 L67.5,229.0 L69.0,229.4 L70.5,229.8 L72.0,230.2 L73.5,230.6 L75.0,231.0 L76.5,231.4 L78.0,231.7 L79.5,232.1 L81.0,232.4 L82.5,232.7 L84.0,233.0 L85.5,233.3 L87.0,233.6 L88.5,233.9 L90.0,234.2 L91.5,234.5 L93.0,234.7 L94.5,235.0 L96.0,235.2 L97.5,235.5 L99.0,235.7 L100.5,235.9 L102.0,236.2 L103.5,236.4 L105.0,236.6 L106.5,236.8 L108.0,237.0 L109.5,237.2 L111.0,237.3 L112.5,237.5 L114.0,237.7 L115.5,237.8 L117.0,238.0 L118.5,238.2 L120.0,238.3 L121.5,238.4 L123.0,238.6 L124.5,238.7 L126.0,238.8 L127.5,239.0 L129.0,239.1 L130.5,239.2 L132.0,239.3 L133.5,239.4 L135.0,239.6 L136.5,239.7 L138.0,239.8 L139.5,239.9 L141.0,240.0 L142.5,240.1 L144.0,240.2 L145.5,240.3 L147.0,240.4 L148.5,240.5 L150.0,240.6 L151.5,240.6 L153.0,240.7 L154.5,240.8 L156.0,240.9 L157.5,241.0 L159.0,241.1 L160.5,241.2 L162.0,241.3 L163.5,241.4 L165.0,241.5 L166.5,241.6 L168.0,241.7 L169.5,241.8 L171.0,241.9 L172.5,242.0 L174.0,242.1 L175.5,242.2 L177.0,242.3 L178.5,242.4 L180.0,242.5 L181.5,242.7 L183.0,242.8 L184.5,242.9 L186.0,243.0 L187.5,243.2 L189.0,243.3 L190.5,243.5 L192.0,243.6 L193.5,243.8 L195.0,243.9 L196.5,244.1 L198.0,244.3 L199.5,244.4 L201.0,244.6 L202.5,244.8 L204.0,245.0 L205.5,245.2 L207.0,245.4 L208.5,245.6 L210.0,245.8 L211.5,246.1 L213.0,246.3" stroke="#000" stroke-width="2.5" fill="none" stroke-linecap="butt"/>
<path d="M233.0,250.2 L234.5,250.6 L236.0,250.9 L237.5,251.3 L239.0,251.7 L240.5,252.1 L242.0,252.5 L243.5,252.9 L245.0,253.4 L246.5,253.8 L248.0,254.3 L249.5,254.8 L251.0,255.2 L252.5,255.7 L254.0,256.2 L255.5,256.8 L257.0,257.3 L258.5,257.9 L260.0,258.4 L260.5,258.6" stroke="#000" stroke-width="2.5" fill="none" stroke-linecap="butt"/>
<path d="M28.5,224.9 L30.0,225.7 L31.5,226.5 L33.0,227.2 L34.5,228.0 L36.0,228.7 L37.5,229.4 L39.0,230.1 L40.5,230.7 L42.0,231.4 L43.5,232.0 L45.0,232.7 L46.5,233.3 L48.0,233.9 L49.5,234.5 L51.0,235.0 L52.5,235.6 L54.0,236.1 L55.5,236.6 L57.0,237.2 L58.5,237.7 L60.0,238.2 L61.5,238.6 L63.0,239.1 L64.5,239.5 L66.0,240.0 L67.5,240.4 L69.0,240.8 L70.5,241.2 L72.0,241.6 L73.5,242.0 L75.0,242.4 L76.5,242.8 L78.0,243.1 L79.5,243.4 L81.0,243.8 L82.5,244.1 L84.0,244.4 L85.5,244.7 L87.0,245.0 L88.5,245.3 L90.0,245.6 L91.5,245.9 L93.0,246.1 L94.5,246.4 L96.0,246.6 L97.5,246.8 L99.0,247.1 L100.5,247.3 L102.0,247.5 L103.5,247.7 L105.0,247.9 L106.5,248.1 L108.0,248.3 L109.5,248.5 L111.0,248.7 L112.5,248.8 L114.0,249.0 L115.5,249.2 L117.0,249.3 L118.5,249.5 L120.0,249.6 L121.5,249.8 L123.0,249.9 L124.5,250.0 L126.0,250.2 L127.5,250.3 L129.0,250.4 L130.5,250.5 L132.0,250.6 L133.5,250.8 L135.0,250.9 L136.5,251.0 L138.0,251.1 L139.5,251.2 L141.0,251.3 L142.5,251.4 L144.0,251.5 L145.5,251.6 L147.0,251.7 L148.5,251.8 L150.0,251.9 L151.5,252.0 L153.0,252.1 L154.5,252.1 L156.0,252.2 L157.5,252.3 L159.0,252.4 L160.5,252.5 L162.0,252.6 L163.5,252.7 L165.0,252.8 L166.5,252.9 L168.0,253.0 L169.5,253.1 L171.0,253.2 L172.5,253.3 L174.0,253.4 L175.5,253.6 L177.0,253.7 L178.5,253.8 L180.0,253.9 L181.5,254.0 L183.0,254.2 L184.5,254.3 L186.0,254.4 L187.5,254.6 L189.0,254.7 L190.5,254.9 L192.0,255.0 L193.5,255.2 L195.0,255.4 L196.5,255.5 L198.0,255.7 L199.5,255.9 L201.0,256.1 L202.5,256.3 L204.0,256.5 L205.5,256.7 L207.0,256.9 L208.5,257.1 L210.0,257.4 L211.5,257.6 L213.0,257.9" stroke="#000" stroke-width="2.5" fill="none" stroke-linecap="butt"/>
<path d="M233.0,262.0 L234.5,262.4 L236.0,262.8 L237.5,263.2 L239.0,263.6 L240.5,264.0 L242.0,264.4 L243.5,264.9 L245.0,265.3 L246.5,265.8 L248.0,266.3 L249.5,266.8 L251.0,267.3 L252.5,267.8 L254.0,268.3 L255.5,268.9 L257.0,269.5 L258.5,270.0 L260.0,270.6 L260.5,270.8" stroke="#000" stroke-width="2.5" fill="none" stroke-linecap="butt"/>
<path d="M28.5,239.5 L30.0,240.2 L31.5,240.9 L33.0,241.6 L34.5,242.3 L36.0,243.0 L37.5,243.6 L39.0,244.3 L40.5,244.9 L42.0,245.5 L43.5,246.1 L45.0,246.7 L46.5,247.3 L48.0,247.9 L49.5,248.4 L51.0,248.9 L52.5,249.5 L54.0,250.0 L55.5,250.5 L57.0,251.0 L58.5,251.4 L60.0,251.9 L61.5,252.3 L63.0,252.8 L64.5,253.2 L66.0,253.6 L67.5,254.0 L69.0,254.4 L70.5,254.8 L72.0,255.2 L73.5,255.5 L75.0,255.9 L76.5,256.2 L78.0,256.6 L79.5,256.9 L81.0,257.2 L82.5,257.5 L84.0,257.8 L85.5,258.1 L87.0,258.4 L88.5,258.7 L90.0,258.9 L91.5,259.2 L93.0,259.5 L94.5,259.7 L96.0,259.9 L97.5,260.2 L99.0,260.4 L100.5,260.6 L102.0,260.8 L103.5,261.0 L105.0,261.2 L106.5,261.4 L108.0,261.6 L109.5,261.8 L111.0,262.0 L112.5,262.1 L114.0,262.3 L115.5,262.5 L117.0,262.6 L118.5,262.8 L120.0,262.9 L121.5,263.1 L123.0,263.2 L124.5,263.3 L126.0,263.5 L127.5,263.6 L129.0,263.7 L130.5,263.9 L132.0,264.0 L133.5,264.1 L135.0,264.2 L136.5,264.3 L138.0,264.4 L139.5,264.6 L141.0,264.7 L142.5,264.8 L144.0,264.9 L145.5,265.0 L147.0,265.1 L148.5,265.2 L150.0,265.3 L151.5,265.4 L153.0,265.5 L154.5,265.6 L156.0,265.7 L157.5,265.9 L159.0,266.0 L160.5,266.1 L162.0,266.2 L163.5,266.3 L165.0,266.4 L166.5,266.5 L168.0,266.6 L169.5,266.8 L171.0,266.9 L172.5,267.0 L174.0,267.1 L175.5,267.3 L177.0,267.4 L178.5,267.5 L180.0,267.7 L181.5,267.8 L183.0,268.0 L184.5,268.1 L186.0,268.3 L187.5,268.5 L189.0,268.6 L190.5,268.8 L192.0,269.0 L193.5,269.2 L195.0,269.3 L196.5,269.5 L198.0,269.7 L199.5,269.9 L201.0,270.1 L202.5,270.4 L204.0,270.6 L205.5,270.8 L207.0,271.1 L208.5,271.3 L210.0,271.6 L211.5,271.8 L213.0,272.1" stroke="#000" stroke-width="2.5" fill="none" stroke-linecap="butt"/>
<path d="M233.0,276.5 L234.5,276.9 L236.0,277.3 L237.5,277.7 L239.0,278.2 L240.5,278.6 L242.0,279.1 L243.5,279.5 L245.0,280.0 L246.5,280.5 L248.0,281.0 L249.5,281.5 L251.0,282.0 L252.5,282.6 L254.0,283.1 L255.5,283.7 L257.0,284.3 L258.5,284.9 L260.0,285.5 L260.5,285.7" stroke="#000" stroke-width="2.5" fill="none" stroke-linecap="butt"/>
<path d="M28.5,253.4 L30.0,254.2 L31.5,254.9 L33.0,255.7 L34.5,256.4 L36.0,257.1 L37.5,257.8 L39.0,258.4 L40.5,259.1 L42.0,259.7 L43.5,260.3 L45.0,260.9 L46.5,261.5 L48.0,262.1 L49.5,262.7 L51.0,263.2 L52.5,263.8 L54.0,264.3 L55.5,264.8 L57.0,265.3 L58.5,265.8 L60.0,266.3 L61.5,266.7 L63.0,267.2 L64.5,267.6 L66.0,268.0 L67.5,268.5 L69.0,268.9 L70.5,269.3 L72.0,269.6 L73.5,270.0 L75.0,270.4 L76.5,270.7 L78.0,271.1 L79.5,271.4 L81.0,271.7 L82.5,272.0 L84.0,272.3 L85.5,272.6 L87.0,272.9 L88.5,273.2 L90.0,273.5 L91.5,273.7 L93.0,274.0 L94.5,274.3 L96.0,274.5 L97.5,274.7 L99.0,275.0 L100.5,275.2 L102.0,275.4 L103.5,275.6 L105.0,275.8 L106.5,276.0 L108.0,276.2 L109.5,276.4 L111.0,276.5 L112.5,276.7 L114.0,276.9 L115.5,277.0 L117.0,277.2 L118.5,277.3 L120.0,277.5 L121.5,277.6 L123.0,277.8 L124.5,277.9 L126.0,278.0 L127.5,278.2 L129.0,278.3 L130.5,278.4 L132.0,278.6 L133.5,278.7 L135.0,278.8 L136.5,278.9 L138.0,279.0 L139.5,279.1 L141.0,279.2 L142.5,279.3 L144.0,279.5 L145.5,279.6 L147.0,279.7 L148.5,279.8 L150.0,279.9 L151.5,280.0 L153.0,280.1 L154.5,280.2 L156.0,280.3 L157.5,280.4 L159.0,280.5 L160.5,280.6 L162.0,280.7 L163.5,280.8 L165.0,281.0 L166.5,281.1 L168.0,281.2 L169.5,281.3 L171.0,281.4 L172.5,281.6 L174.0,281.7 L175.5,281.8 L177.0,281.9 L178.5,282.1 L180.0,282.2 L181.5,282.4 L183.0,282.5 L184.5,282.7 L186.0,282.8 L187.5,283.0 L189.0,283.2 L190.5,283.3 L192.0,283.5 L193.5,283.7 L195.0,283.9 L196.5,284.1 L198.0,284.3 L199.5,284.5 L201.0,284.7 L202.5,284.9 L204.0,285.2 L205.5,285.4 L207.0,285.6 L208.5,285.9 L210.0,286.1 L211.5,286.4 L213.0,286.7" stroke="#000" stroke-width="2.5" fill="none" stroke-linecap="butt"/>
<path d="M233.0,291.2 L234.5,291.6 L236.0,292.0 L237.5,292.5 L239.0,292.9 L240.5,293.4 L242.0,293.8 L243.5,294.3 L245.0,294.8 L246.5,295.3 L248.0,295.8 L249.5,296.4 L251.0,296.9 L252.5,297.5 L254.0,298.0 L255.5,298.6 L257.0,299.2 L258.5,299.8 L260.0,300.5 L260.5,300.7" stroke="#000" stroke-width="2.5" fill="none" stroke-linecap="butt"/>
<path d="M28.5,265.4 L30.0,266.1 L31.5,266.9 L33.0,267.6 L34.5,268.3 L36.0,269.0 L37.5,269.7 L39.0,270.4 L40.5,271.0 L42.0,271.6 L43.5,272.3 L45.0,272.9 L46.5,273.5 L48.0,274.0 L49.5,274.6 L51.0,275.1 L52.5,275.7 L54.0,276.2 L55.5,276.7 L57.0,277.2 L58.5,277.7 L60.0,278.2 L61.5,278.6 L63.0,279.1 L64.5,279.5 L66.0,279.9 L67.5,280.3 L69.0,280.7 L70.5,281.1 L72.0,281.5 L73.5,281.8 L75.0,282.2 L76.5,282.6 L78.0,282.9 L79.5,283.2 L81.0,283.5 L82.5,283.8 L84.0,284.1 L85.5,284.4 L87.0,284.7 L88.5,285.0 L90.0,285.2 L91.5,285.5 L93.0,285.7 L94.5,286.0 L96.0,286.2 L97.5,286.4 L99.0,286.6 L100.5,286.8 L102.0,287.0 L103.5,287.2 L105.0,287.4 L106.5,287.6 L108.0,287.8 L109.5,288.0 L111.0,288.1 L112.5,288.3 L114.0,288.4 L115.5,288.6 L117.0,288.7 L118.5,288.9 L120.0,289.0 L121.5,289.2 L123.0,289.3 L124.5,289.4 L126.0,289.5 L127.5,289.7 L129.0,289.8 L130.5,289.9 L132.0,290.0 L133.5,290.1 L135.0,290.2 L136.5,290.3 L138.0,290.4 L139.5,290.5 L141.0,290.6 L142.5,290.7 L144.0,290.8 L145.5,290.9 L147.0,291.0 L148.5,291.1 L150.0,291.2 L151.5,291.3 L153.0,291.4 L154.5,291.5 L156.0,291.6 L157.5,291.7 L159.0,291.8 L160.5,291.9 L162.0,292.0 L163.5,292.1 L165.0,292.2 L166.5,292.3 L168.0,292.5 L169.5,292.6 L171.0,292.7 L172.5,292.8 L174.0,292.9 L175.5,293.1 L177.0,293.2 L178.5,293.3 L180.0,293.5 L181.5,293.6 L183.0,293.8 L184.5,293.9 L186.0,294.1 L187.5,294.3 L189.0,294.4 L190.5,294.6 L192.0,294.8 L193.5,295.0 L195.0,295.2 L196.5,295.4 L198.0,295.6 L199.5,295.8 L201.0,296.0 L202.5,296.2 L204.0,296.5 L205.5,296.7 L207.0,297.0 L208.5,297.2 L210.0,297.5 L211.5,297.8 L213.0,298.1" stroke="#000" stroke-width="2.5" fill="none" stroke-linecap="butt"/>
<path d="M233.0,302.8 L234.5,303.3 L236.0,303.7 L237.5,304.2 L239.0,304.6 L240.5,305.1 L242.0,305.6 L243.5,306.1 L245.0,306.7 L246.5,307.2 L248.0,307.8 L249.5,308.3 L251.0,308.9 L252.5,309.5 L254.0,310.1 L255.5,310.7 L257.0,311.4 L258.5,312.0 L260.0,312.7 L260.5,312.9" stroke="#000" stroke-width="2.5" fill="none" stroke-linecap="butt"/>
<text x="215.5" y="249.3" font-size="7.8" text-anchor="start" fill="#000" textLength="18" lengthAdjust="spacingAndGlyphs" stroke="#000" stroke-width="0.35">99 %</text>
<text x="215.5" y="261" font-size="7.8" text-anchor="start" fill="#000" textLength="18" lengthAdjust="spacingAndGlyphs" stroke="#000" stroke-width="0.35">90 %</text>
<text x="215.5" y="275.4" font-size="7.8" text-anchor="start" fill="#000" textLength="18" lengthAdjust="spacingAndGlyphs" stroke="#000" stroke-width="0.35">50 %</text>
<text x="215.5" y="289.2" font-size="7.8" text-anchor="start" fill="#000" textLength="18" lengthAdjust="spacingAndGlyphs" stroke="#000" stroke-width="0.35">10 %</text>
<text x="219.8" y="302" font-size="7.8" text-anchor="start" fill="#000" textLength="13.5" lengthAdjust="spacingAndGlyphs" stroke="#000" stroke-width="0.35">1 %</text>
<text x="35.8" y="284.4" font-size="9.4" text-anchor="start" fill="#000" textLength="17" lengthAdjust="spacingAndGlyphs" stroke="#000" stroke-width="0.4">M14</text>
<text x="32" y="298.8" font-size="9.4" text-anchor="start" fill="#000" textLength="14.5" lengthAdjust="spacingAndGlyphs" stroke="#000" stroke-width="0.4">F10</text>
<text x="70.1" y="309.4" font-size="9.4" text-anchor="start" fill="#000" textLength="14.4" lengthAdjust="spacingAndGlyphs" stroke="#000" stroke-width="0.4">F17</text>
<text x="108.8" y="288.2" font-size="9.4" text-anchor="start" fill="#000" textLength="14.2" lengthAdjust="spacingAndGlyphs" stroke="#000" stroke-width="0.4">F43</text>
<text x="130.8" y="302.9" font-size="9.4" text-anchor="start" fill="#000" textLength="18.2" lengthAdjust="spacingAndGlyphs" stroke="#000" stroke-width="0.4">M44</text>
<text x="165.4" y="292" font-size="9.4" text-anchor="start" fill="#000" textLength="13.8" lengthAdjust="spacingAndGlyphs" stroke="#000" stroke-width="0.4">F67</text>
<text x="0" y="0" font-size="10" stroke="#000" stroke-width="0.4" textLength="92.3" lengthAdjust="spacingAndGlyphs" transform="translate(8.7,313.4) rotate(-90)">Telomere Length (kb)</text>
<text x="121" y="372" font-size="9.8" text-anchor="start" fill="#000" textLength="50.2" lengthAdjust="spacingAndGlyphs" stroke="#000" stroke-width="0.4">Age (years)</text>
<path d="M302.00,186.70V347.50M307.28,186.70V347.50M312.56,186.70V347.50M317.84,186.70V347.50M323.12,186.70V347.50M328.40,186.70V347.50M333.68,186.70V347.50M338.96,186.70V347.50M344.24,186.70V347.50M349.52,186.70V347.50M354.80,186.70V347.50M360.08,186.70V347.50M365.36,186.70V347.50M370.64,186.70V347.50M375.92,186.70V347.50M381.20,186.70V347.50M386.48,186.70V347.50M391.76,186.70V347.50M397.04,186.70V347.50M402.32,186.70V347.50M407.60,186.70V347.50M412.88,186.70V347.50M418.16,186.70V347.50M423.44,186.70V347.50M428.72,186.70V347.50M434.00,186.70V347.50M439.28,186.70V347.50M444.56,186.70V347.50M449.84,186.70V347.50M455.12,186.70V347.50M460.40,186.70V347.50M465.68,186.70V347.50M470.96,186.70V347.50M476.24,186.70V347.50M481.52,186.70V347.50M486.80,186.70V347.50M492.08,186.70V347.50M497.36,186.70V347.50M502.64,186.70V347.50M507.92,186.70V347.50M513.20,186.70V347.50M302.00,347.50H513.50M302.00,342.48H513.50M302.00,337.45H513.50M302.00,332.43H513.50M302.00,327.40H513.50M302.00,322.38H513.50M302.00,317.35H513.50M302.00,312.32H513.50M302.00,307.30H513.50M302.00,302.27H513.50M302.00,297.25H513.50M302.00,292.23H513.50M302.00,287.20H513.50M302.00,282.18H513.50M302.00,277.15H513.50M302.00,272.12H513.50M302.00,267.10H513.50M302.00,262.07H513.50M302.00,257.05H513.50M302.00,252.02H513.50M302.00,247.00H513.50M302.00,241.97H513.50M302.00,236.95H513.50M302.00,231.93H513.50M302.00,226.90H513.50M302.00,221.88H513.50M302.00,216.85H513.50M302.00,211.82H513.50M302.00,206.80H513.50M302.00,201.77H513.50M302.00,196.75H513.50M302.00,191.72H513.50M302.00,186.70H513.50" stroke="#dfe2e5" stroke-width="1" fill="none" shape-rendering="crispEdges"/>
<path d="M302,186.2V347.5H513.5" stroke="#000" stroke-width="1.5" fill="none"/>
<path d="M298.20,347.50H302M299.60,342.48H302M298.20,337.45H302M299.60,332.43H302M298.20,327.40H302M299.60,322.38H302M298.20,317.35H302M299.60,312.32H302M298.20,307.30H302M299.60,302.27H302M298.20,297.25H302M299.60,292.23H302M298.20,287.20H302M299.60,282.18H302M298.20,277.15H302M299.60,272.12H302M298.20,267.10H302M299.60,262.07H302M298.20,257.05H302M299.60,252.02H302M298.20,247.00H302M299.60,241.97H302M298.20,236.95H302M299.60,231.93H302M298.20,226.90H302M299.60,221.88H302M298.20,216.85H302M299.60,211.82H302M298.20,206.80H302M299.60,201.77H302M298.20,196.75H302M299.60,191.72H302M298.20,186.70H302M302.00,347.5V350.80M307.28,347.5V349.80M312.56,347.5V350.80M317.84,347.5V349.80M323.12,347.5V350.80M328.40,347.5V349.80M333.68,347.5V350.80M338.96,347.5V349.80M344.24,347.5V350.80M349.52,347.5V349.80M354.80,347.5V350.80M360.08,347.5V349.80M365.36,347.5V350.80M370.64,347.5V349.80M375.92,347.5V350.80M381.20,347.5V349.80M386.48,347.5V350.80M391.76,347.5V349.80M397.04,347.5V350.80M402.32,347.5V349.80M407.60,347.5V350.80M412.88,347.5V349.80M418.16,347.5V350.80M423.44,347.5V349.80M428.72,347.5V350.80M434.00,347.5V349.80M439.28,347.5V350.80M444.56,347.5V349.80M449.84,347.5V350.80M455.12,347.5V349.80M460.40,347.5V350.80M465.68,347.5V349.80M470.96,347.5V350.80M476.24,347.5V349.80M481.52,347.5V350.80M486.80,347.5V349.80M492.08,347.5V350.80M497.36,347.5V349.80M502.64,347.5V350.80M507.92,347.5V349.80M513.20,347.5V350.80" stroke="#000" stroke-width="1.2" fill="none"/>
<text x="296.8" y="349.8" font-size="7" font-weight="bold" text-anchor="end" fill="#000" >0</text>
<text x="296.8" y="339.75" font-size="7" font-weight="bold" text-anchor="end" fill="#000" >1</text>
<text x="296.8" y="329.7" font-size="7" font-weight="bold" text-anchor="end" fill="#000" >2</text>
<text x="296.8" y="319.65" font-size="7" font-weight="bold" text-anchor="end" fill="#000" >3</text>
<text x="296.8" y="309.6" font-size="7" font-weight="bold" text-anchor="end" fill="#000" >4</text>
<text x="296.8" y="299.55" font-size="7" font-weight="bold" text-anchor="end" fill="#000" >5</text>
<text x="296.8" y="289.5" font-size="7" font-weight="bold" text-anchor="end" fill="#000" >6</text>
<text x="296.8" y="279.45" font-size="7" font-weight="bold" text-anchor="end" fill="#000" >7</text>
<text x="296.8" y="269.4" font-size="7" font-weight="bold" text-anchor="end" fill="#000" >8</text>
<text x="296.8" y="259.35" font-size="7" font-weight="bold" text-anchor="end" fill="#000" >9</text>
<text x="296.8" y="249.3" font-size="7" font-weight="bold" text-anchor="end" fill="#000" >10</text>
<text x="296.8" y="239.25" font-size="7" font-weight="bold" text-anchor="end" fill="#000" >11</text>
<text x="296.8" y="229.2" font-size="7" font-weight="bold" text-anchor="end" fill="#000" >12</text>
<text x="296.8" y="219.15" font-size="7" font-weight="bold" text-anchor="end" fill="#000" >13</text>
<text x="296.8" y="209.1" font-size="7" font-weight="bold" text-anchor="end" fill="#000" >14</text>
<text x="296.8" y="199.05" font-size="7" font-weight="bold" text-anchor="end" fill="#000" >15</text>
<text x="296.8" y="189.0" font-size="7" font-weight="bold" text-anchor="end" fill="#000" >16</text>
<text x="302.0" y="358.7" font-size="7.2" font-weight="bold" text-anchor="middle" fill="#000" >0</text>
<text x="312.56" y="358.7" font-size="7.2" font-weight="bold" text-anchor="middle" fill="#000" >5</text>
<text x="323.12" y="358.7" font-size="7.2" font-weight="bold" text-anchor="middle" fill="#000" textLength="7.4" lengthAdjust="spacingAndGlyphs" >10</text>
<text x="333.68" y="358.7" font-size="7.2" font-weight="bold" text-anchor="middle" fill="#000" textLength="7.4" lengthAdjust="spacingAndGlyphs" >15</text>
<text x="344.24" y="358.7" font-size="7.2" font-weight="bold" text-anchor="middle" fill="#000" textLength="7.4" lengthAdjust="spacingAndGlyphs" >20</text>
<text x="354.8" y="358.7" font-size="7.2" font-weight="bold" text-anchor="middle" fill="#000" textLength="7.4" lengthAdjust="spacingAndGlyphs" >25</text>
<text x="365.36" y="358.7" font-size="7.2" font-weight="bold" text-anchor="middle" fill="#000" textLength="7.4" lengthAdjust="spacingAndGlyphs" >30</text>
<text x="375.92" y="358.7" font-size="7.2" font-weight="bold" text-anchor="middle" fill="#000" textLength="7.4" lengthAdjust="spacingAndGlyphs" >35</text>
<text x="386.48" y="358.7" font-size="7.2" font-weight="bold" text-anchor="middle" fill="#000" textLength="7.4" lengthAdjust="spacingAndGlyphs" >40</text>
<text x="397.04" y="358.7" font-size="7.2" font-weight="bold" text-anchor="middle" fill="#000" textLength="7.4" lengthAdjust="spacingAndGlyphs" >45</text>
<text x="407.6" y="358.7" font-size="7.2" font-weight="bold" text-anchor="middle" fill="#000" textLength="7.4" lengthAdjust="spacingAndGlyphs" >50</text>
<text x="418.16" y="358.7" font-size="7.2" font-weight="bold" text-anchor="middle" fill="#000" textLength="7.4" lengthAdjust="spacingAndGlyphs" >55</text>
<text x="428.72" y="358.7" font-size="7.2" font-weight="bold" text-anchor="middle" fill="#000" textLength="7.4" lengthAdjust="spacingAndGlyphs" >60</text>
<text x="439.28" y="358.7" font-size="7.2" font-weight="bold" text-anchor="middle" fill="#000" textLength="7.4" lengthAdjust="spacingAndGlyphs" >65</text>
<text x="449.84" y="358.7" font-size="7.2" font-weight="bold" text-anchor="middle" fill="#000" textLength="7.4" lengthAdjust="spacingAndGlyphs" >70</text>
<text x="460.4" y="358.7" font-size="7.2" font-weight="bold" text-anchor="middle" fill="#000" textLength="7.4" lengthAdjust="spacingAndGlyphs" >75</text>
<text x="470.96" y="358.7" font-size="7.2" font-weight="bold" text-anchor="middle" fill="#000" textLength="7.4" lengthAdjust="spacingAndGlyphs" >80</text>
<text x="481.52" y="358.7" font-size="7.2" font-weight="bold" text-anchor="middle" fill="#000" textLength="7.4" lengthAdjust="spacingAndGlyphs" >85</text>
<text x="492.08" y="358.7" font-size="7.2" font-weight="bold" text-anchor="middle" fill="#000" textLength="7.4" lengthAdjust="spacingAndGlyphs" >90</text>
<text x="502.64" y="358.7" font-size="7.2" font-weight="bold" text-anchor="middle" fill="#000" textLength="7.4" lengthAdjust="spacingAndGlyphs" >95</text>
<text x="513.2" y="358.7" font-size="7.2" font-weight="bold" text-anchor="middle" fill="#000" textLength="11" lengthAdjust="spacingAndGlyphs" >100</text>
<text x="353.4" y="228.8" font-size="13.5" text-anchor="start" fill="#000" textLength="80" lengthAdjust="spacingAndGlyphs" stroke="#000" stroke-width="0.22">Lymphocytes</text>
<rect x="328.5" y="278.6" width="6.8" height="6.8" fill="#f0841c"/>
<circle cx="323.5" cy="293.8" r="3.2" fill="#22dde8"/>
<circle cx="339.6" cy="309.7" r="3.4" fill="#111"/><line x1="339.6" y1="307.1" x2="339.6" y2="312.29999999999995" stroke="#fff" stroke-width="0.6"/>
<rect x="393.25" y="298.75" width="5.5" height="5.5" fill="#f0841c"/>
<circle cx="393" cy="302" r="3.3" fill="#22dde8"/>
<circle cx="441" cy="303.9" r="3.3" fill="#22dde8"/>
<rect x="466" y="268.5" width="20.69999999999999" height="53.0" fill="#fff"/>
<path d="M302.0,222.3 L303.5,223.4 L305.0,224.4 L306.5,225.5 L308.0,226.5 L309.5,227.5 L311.0,228.5 L312.5,229.5 L314.0,230.4 L315.5,231.4 L317.0,232.3 L318.5,233.2 L320.0,234.0 L321.5,234.9 L323.0,235.7 L324.5,236.5 L326.0,237.4 L327.5,238.1 L329.0,238.9 L330.5,239.6 L332.0,240.4 L333.5,241.1 L335.0,241.8 L336.5,242.5 L338.0,243.1 L339.5,243.8 L341.0,244.4 L342.5,245.1 L344.0,245.7 L345.5,246.3 L347.0,246.8 L348.5,247.4 L350.0,248.0 L351.5,248.5 L353.0,249.0 L354.5,249.5 L356.0,250.0 L357.5,250.5 L359.0,251.0 L360.5,251.5 L362.0,251.9 L363.5,252.4 L365.0,252.8 L366.5,253.2 L368.0,253.6 L369.5,254.0 L371.0,254.4 L372.5,254.8 L374.0,255.2 L375.5,255.5 L377.0,255.9 L378.5,256.2 L380.0,256.6 L381.5,256.9 L383.0,257.2 L384.5,257.5 L386.0,257.8 L387.5,258.1 L389.0,258.4 L390.5,258.7 L392.0,259.0 L393.5,259.3 L395.0,259.5 L396.5,259.8 L398.0,260.1 L399.5,260.3 L401.0,260.6 L402.5,260.8 L404.0,261.0 L405.5,261.3 L407.0,261.5 L408.5,261.7 L410.0,262.0 L411.5,262.2 L413.0,262.4 L414.5,262.6 L416.0,262.8 L417.5,263.1 L419.0,263.3 L420.5,263.5 L422.0,263.7 L423.5,263.9 L425.0,264.1 L426.5,264.3 L428.0,264.5 L429.5,264.8 L431.0,265.0 L432.5,265.2 L434.0,265.4 L435.5,265.6 L437.0,265.8 L438.5,266.0 L440.0,266.3 L441.5,266.5 L443.0,266.7 L444.5,266.9 L446.0,267.2 L447.5,267.4 L449.0,267.7 L450.5,267.9 L452.0,268.1 L453.5,268.4 L455.0,268.7 L456.5,268.9 L458.0,269.2 L459.5,269.5 L461.0,269.7 L462.5,270.0 L464.0,270.3 L465.5,270.6 L465.8,270.7" stroke="#000" stroke-width="2.5" fill="none" stroke-linecap="butt"/>
<path d="M486.5,275.7 L488.0,276.1 L489.5,276.6 L491.0,277.0 L492.5,277.5 L494.0,278.0 L495.5,278.5 L497.0,279.0 L498.5,279.5 L500.0,280.0 L501.5,280.5 L503.0,281.1 L504.5,281.7 L506.0,282.2 L507.5,282.8 L509.0,283.5 L510.5,284.1 L512.0,284.7 L513.5,285.4 L514.2,285.7" stroke="#000" stroke-width="2.5" fill="none" stroke-linecap="butt"/>
<path d="M302.0,231.7 L303.5,232.9 L305.0,234.0 L306.5,235.1 L308.0,236.2 L309.5,237.3 L311.0,238.4 L312.5,239.4 L314.0,240.4 L315.5,241.4 L317.0,242.3 L318.5,243.3 L320.0,244.2 L321.5,245.1 L323.0,246.0 L324.5,246.8 L326.0,247.7 L327.5,248.5 L329.0,249.3 L330.5,250.1 L332.0,250.8 L333.5,251.6 L335.0,252.3 L336.5,253.0 L338.0,253.7 L339.5,254.4 L341.0,255.0 L342.5,255.7 L344.0,256.3 L345.5,256.9 L347.0,257.5 L348.5,258.1 L350.0,258.7 L351.5,259.2 L353.0,259.8 L354.5,260.3 L356.0,260.8 L357.5,261.3 L359.0,261.8 L360.5,262.2 L362.0,262.7 L363.5,263.1 L365.0,263.6 L366.5,264.0 L368.0,264.4 L369.5,264.8 L371.0,265.2 L372.5,265.6 L374.0,265.9 L375.5,266.3 L377.0,266.6 L378.5,267.0 L380.0,267.3 L381.5,267.6 L383.0,267.9 L384.5,268.2 L386.0,268.5 L387.5,268.8 L389.0,269.1 L390.5,269.4 L392.0,269.6 L393.5,269.9 L395.0,270.1 L396.5,270.4 L398.0,270.6 L399.5,270.9 L401.0,271.1 L402.5,271.3 L404.0,271.5 L405.5,271.8 L407.0,272.0 L408.5,272.2 L410.0,272.4 L411.5,272.6 L413.0,272.8 L414.5,273.0 L416.0,273.2 L417.5,273.4 L419.0,273.6 L420.5,273.8 L422.0,274.0 L423.5,274.1 L425.0,274.3 L426.5,274.5 L428.0,274.7 L429.5,274.9 L431.0,275.1 L432.5,275.3 L434.0,275.5 L435.5,275.7 L437.0,275.9 L438.5,276.1 L440.0,276.3 L441.5,276.5 L443.0,276.7 L444.5,276.9 L446.0,277.1 L447.5,277.4 L449.0,277.6 L450.5,277.8 L452.0,278.0 L453.5,278.3 L455.0,278.5 L456.5,278.8 L458.0,279.0 L459.5,279.3 L461.0,279.6 L462.5,279.8 L464.0,280.1 L465.5,280.4 L465.8,280.5" stroke="#000" stroke-width="2.5" fill="none" stroke-linecap="butt"/>
<path d="M486.5,285.4 L488.0,285.9 L489.5,286.3 L491.0,286.8 L492.5,287.3 L494.0,287.8 L495.5,288.3 L497.0,288.8 L498.5,289.3 L500.0,289.9 L501.5,290.4 L503.0,291.0 L504.5,291.6 L506.0,292.2 L507.5,292.8 L509.0,293.4 L510.5,294.1 L512.0,294.8 L513.5,295.5 L514.2,295.8" stroke="#000" stroke-width="2.5" fill="none" stroke-linecap="butt"/>
<path d="M302.0,243.9 L303.5,245.0 L305.0,246.1 L306.5,247.2 L308.0,248.3 L309.5,249.3 L311.0,250.4 L312.5,251.4 L314.0,252.3 L315.5,253.3 L317.0,254.2 L318.5,255.2 L320.0,256.1 L321.5,256.9 L323.0,257.8 L324.5,258.6 L326.0,259.4 L327.5,260.2 L329.0,261.0 L330.5,261.8 L332.0,262.5 L333.5,263.3 L335.0,264.0 L336.5,264.7 L338.0,265.3 L339.5,266.0 L341.0,266.6 L342.5,267.3 L344.0,267.9 L345.5,268.5 L347.0,269.0 L348.5,269.6 L350.0,270.2 L351.5,270.7 L353.0,271.2 L354.5,271.7 L356.0,272.2 L357.5,272.7 L359.0,273.2 L360.5,273.6 L362.0,274.1 L363.5,274.5 L365.0,274.9 L366.5,275.3 L368.0,275.7 L369.5,276.1 L371.0,276.5 L372.5,276.9 L374.0,277.2 L375.5,277.6 L377.0,277.9 L378.5,278.3 L380.0,278.6 L381.5,278.9 L383.0,279.2 L384.5,279.5 L386.0,279.8 L387.5,280.1 L389.0,280.3 L390.5,280.6 L392.0,280.9 L393.5,281.1 L395.0,281.4 L396.5,281.6 L398.0,281.9 L399.5,282.1 L401.0,282.3 L402.5,282.6 L404.0,282.8 L405.5,283.0 L407.0,283.2 L408.5,283.4 L410.0,283.6 L411.5,283.9 L413.0,284.1 L414.5,284.3 L416.0,284.5 L417.5,284.7 L419.0,284.9 L420.5,285.1 L422.0,285.3 L423.5,285.5 L425.0,285.7 L426.5,285.8 L428.0,286.0 L429.5,286.2 L431.0,286.4 L432.5,286.6 L434.0,286.9 L435.5,287.1 L437.0,287.3 L438.5,287.5 L440.0,287.7 L441.5,287.9 L443.0,288.1 L444.5,288.4 L446.0,288.6 L447.5,288.8 L449.0,289.1 L450.5,289.3 L452.0,289.5 L453.5,289.8 L455.0,290.1 L456.5,290.3 L458.0,290.6 L459.5,290.9 L461.0,291.2 L462.5,291.5 L464.0,291.8 L465.5,292.1 L465.8,292.1" stroke="#000" stroke-width="2.5" fill="none" stroke-linecap="butt"/>
<path d="M486.5,297.4 L488.0,297.9 L489.5,298.3 L491.0,298.8 L492.5,299.3 L494.0,299.8 L495.5,300.4 L497.0,300.9 L498.5,301.5 L500.0,302.0 L501.5,302.6 L503.0,303.2 L504.5,303.8 L506.0,304.5 L507.5,305.1 L509.0,305.8 L510.5,306.5 L512.0,307.2 L513.5,307.9 L514.2,308.2" stroke="#000" stroke-width="2.5" fill="none" stroke-linecap="butt"/>
<path d="M302.0,255.8 L303.5,256.9 L305.0,258.0 L306.5,259.0 L308.0,260.0 L309.5,261.0 L311.0,262.0 L312.5,262.9 L314.0,263.9 L315.5,264.8 L317.0,265.7 L318.5,266.6 L320.0,267.4 L321.5,268.3 L323.0,269.1 L324.5,269.9 L326.0,270.7 L327.5,271.5 L329.0,272.2 L330.5,273.0 L332.0,273.7 L333.5,274.4 L335.0,275.1 L336.5,275.8 L338.0,276.4 L339.5,277.1 L341.0,277.7 L342.5,278.3 L344.0,278.9 L345.5,279.5 L347.0,280.1 L348.5,280.7 L350.0,281.2 L351.5,281.8 L353.0,282.3 L354.5,282.8 L356.0,283.3 L357.5,283.8 L359.0,284.3 L360.5,284.7 L362.0,285.2 L363.5,285.6 L365.0,286.1 L366.5,286.5 L368.0,286.9 L369.5,287.3 L371.0,287.7 L372.5,288.1 L374.0,288.5 L375.5,288.8 L377.0,289.2 L378.5,289.6 L380.0,289.9 L381.5,290.2 L383.0,290.6 L384.5,290.9 L386.0,291.2 L387.5,291.5 L389.0,291.8 L390.5,292.1 L392.0,292.4 L393.5,292.7 L395.0,293.0 L396.5,293.2 L398.0,293.5 L399.5,293.8 L401.0,294.0 L402.5,294.3 L404.0,294.5 L405.5,294.8 L407.0,295.0 L408.5,295.3 L410.0,295.5 L411.5,295.7 L413.0,296.0 L414.5,296.2 L416.0,296.4 L417.5,296.6 L419.0,296.9 L420.5,297.1 L422.0,297.3 L423.5,297.5 L425.0,297.8 L426.5,298.0 L428.0,298.2 L429.5,298.4 L431.0,298.7 L432.5,298.9 L434.0,299.1 L435.5,299.3 L437.0,299.6 L438.5,299.8 L440.0,300.0 L441.5,300.3 L443.0,300.5 L444.5,300.7 L446.0,301.0 L447.5,301.2 L449.0,301.5 L450.5,301.8 L452.0,302.0 L453.5,302.3 L455.0,302.5 L456.5,302.8 L458.0,303.1 L459.5,303.4 L461.0,303.7 L462.5,304.0 L464.0,304.3 L465.5,304.6 L465.8,304.6" stroke="#000" stroke-width="2.5" fill="none" stroke-linecap="butt"/>
<path d="M486.5,309.8 L488.0,310.2 L489.5,310.6 L491.0,311.1 L492.5,311.6 L494.0,312.1 L495.5,312.5 L497.0,313.1 L498.5,313.6 L500.0,314.1 L501.5,314.6 L503.0,315.2 L504.5,315.8 L506.0,316.3 L507.5,316.9 L509.0,317.6 L510.5,318.2 L512.0,318.8 L513.5,319.5 L514.2,319.8" stroke="#000" stroke-width="2.5" fill="none" stroke-linecap="butt"/>
<path d="M302.0,265.4 L303.5,266.4 L305.0,267.4 L306.5,268.4 L308.0,269.4 L309.5,270.3 L311.0,271.2 L312.5,272.2 L314.0,273.1 L315.5,273.9 L317.0,274.8 L318.5,275.6 L320.0,276.5 L321.5,277.3 L323.0,278.1 L324.5,278.8 L326.0,279.6 L327.5,280.4 L329.0,281.1 L330.5,281.8 L332.0,282.5 L333.5,283.2 L335.0,283.9 L336.5,284.5 L338.0,285.2 L339.5,285.8 L341.0,286.4 L342.5,287.0 L344.0,287.6 L345.5,288.2 L347.0,288.7 L348.5,289.3 L350.0,289.8 L351.5,290.4 L353.0,290.9 L354.5,291.4 L356.0,291.9 L357.5,292.4 L359.0,292.8 L360.5,293.3 L362.0,293.8 L363.5,294.2 L365.0,294.6 L366.5,295.1 L368.0,295.5 L369.5,295.9 L371.0,296.3 L372.5,296.7 L374.0,297.0 L375.5,297.4 L377.0,297.8 L378.5,298.1 L380.0,298.5 L381.5,298.8 L383.0,299.2 L384.5,299.5 L386.0,299.8 L387.5,300.1 L389.0,300.4 L390.5,300.7 L392.0,301.0 L393.5,301.3 L395.0,301.6 L396.5,301.9 L398.0,302.2 L399.5,302.5 L401.0,302.7 L402.5,303.0 L404.0,303.3 L405.5,303.5 L407.0,303.8 L408.5,304.0 L410.0,304.3 L411.5,304.5 L413.0,304.8 L414.5,305.0 L416.0,305.3 L417.5,305.5 L419.0,305.7 L420.5,306.0 L422.0,306.2 L423.5,306.5 L425.0,306.7 L426.5,306.9 L428.0,307.2 L429.5,307.4 L431.0,307.6 L432.5,307.9 L434.0,308.1 L435.5,308.4 L437.0,308.6 L438.5,308.9 L440.0,309.1 L441.5,309.3 L443.0,309.6 L444.5,309.9 L446.0,310.1 L447.5,310.4 L449.0,310.6 L450.5,310.9 L452.0,311.2 L453.5,311.5 L455.0,311.7 L456.5,312.0 L458.0,312.3 L459.5,312.6 L461.0,312.9 L462.5,313.2 L464.0,313.5 L465.5,313.8 L465.8,313.9" stroke="#000" stroke-width="2.5" fill="none" stroke-linecap="butt"/>
<path d="M486.5,319.1 L488.0,319.5 L489.5,319.9 L491.0,320.4 L492.5,320.9 L494.0,321.3 L495.5,321.8 L497.0,322.3 L498.5,322.8 L500.0,323.4 L501.5,323.9 L503.0,324.4 L504.5,325.0 L506.0,325.6 L507.5,326.2 L509.0,326.8 L510.5,327.4 L512.0,328.0 L513.5,328.6 L514.2,328.9" stroke="#000" stroke-width="2.5" fill="none" stroke-linecap="butt"/>
<text x="468.8" y="275.9" font-size="7.8" text-anchor="start" fill="#000" textLength="18" lengthAdjust="spacingAndGlyphs" stroke="#000" stroke-width="0.35">99 %</text>
<text x="468.8" y="285.5" font-size="7.8" text-anchor="start" fill="#000" textLength="18" lengthAdjust="spacingAndGlyphs" stroke="#000" stroke-width="0.35">90 %</text>
<text x="468.8" y="297.1" font-size="7.8" text-anchor="start" fill="#000" textLength="18" lengthAdjust="spacingAndGlyphs" stroke="#000" stroke-width="0.35">50 %</text>
<text x="468.8" y="308.7" font-size="7.8" text-anchor="start" fill="#000" textLength="18" lengthAdjust="spacingAndGlyphs" stroke="#000" stroke-width="0.35">10 %</text>
<text x="473.4" y="320.2" font-size="7.8" text-anchor="start" fill="#000" textLength="13.5" lengthAdjust="spacingAndGlyphs" stroke="#000" stroke-width="0.35">1 %</text>
<text x="309.3" y="288" font-size="9.4" text-anchor="start" fill="#000" textLength="17.5" lengthAdjust="spacingAndGlyphs" stroke="#000" stroke-width="0.4">M14</text>
<text x="305.8" y="301.3" font-size="9.4" text-anchor="start" fill="#000" textLength="13.8" lengthAdjust="spacingAndGlyphs" stroke="#000" stroke-width="0.4">F10</text>
<text x="344.6" y="316.2" font-size="9.4" text-anchor="start" fill="#000" textLength="14" lengthAdjust="spacingAndGlyphs" stroke="#000" stroke-width="0.4">F17</text>
<text x="376.5" y="298.2" font-size="9.4" text-anchor="start" fill="#000" textLength="13.3" lengthAdjust="spacingAndGlyphs" stroke="#000" stroke-width="0.4">F43</text>
<text x="392" y="315.2" font-size="9.4" text-anchor="start" fill="#000" textLength="17.2" lengthAdjust="spacingAndGlyphs" stroke="#000" stroke-width="0.4">M44</text>
<text x="427.2" y="297.8" font-size="9.4" text-anchor="start" fill="#000" textLength="14.3" lengthAdjust="spacingAndGlyphs" stroke="#000" stroke-width="0.4">F67</text>
<text x="0" y="0" font-size="10" stroke="#000" stroke-width="0.4" textLength="92.3" lengthAdjust="spacingAndGlyphs" transform="translate(283.9,314.6) rotate(-90)">Telomere Length (kb)</text>
<text x="384.7" y="372" font-size="9.8" text-anchor="start" fill="#000" textLength="50.3" lengthAdjust="spacingAndGlyphs" stroke="#000" stroke-width="0.4">Age (years)</text>
<text x="14.2" y="436.8" font-size="9.4" text-anchor="start" fill="#000" stroke="#000" stroke-width="0.36">1.</text>
<text x="33.6" y="436.8" font-size="9.4" text-anchor="start" fill="#000" textLength="25.4" lengthAdjust="spacingAndGlyphs" stroke="#000" stroke-width="0.36">P1 wt</text>
<text x="14" y="471.7" font-size="9.4" text-anchor="start" fill="#000" stroke="#000" stroke-width="0.36">2.</text>
<text x="32.5" y="471.7" font-size="9.4" text-anchor="start" fill="#000" textLength="24.8" lengthAdjust="spacingAndGlyphs" stroke="#000" stroke-width="0.36">A37G</text>
<text x="13.1" y="507" font-size="9.4" text-anchor="start" fill="#000" stroke="#000" stroke-width="0.36">3.</text>
<text x="32.8" y="507" font-size="9.4" text-anchor="start" fill="#000" textLength="36.4" lengthAdjust="spacingAndGlyphs" stroke="#000" stroke-width="0.36">216-229</text>
<text x="12.3" y="528.5" font-size="9.4" text-anchor="start" fill="#000" stroke="#000" stroke-width="0.36">4.</text>
<text x="30.3" y="528.5" font-size="9.4" text-anchor="start" fill="#000" textLength="51.2" lengthAdjust="spacingAndGlyphs" stroke="#000" stroke-width="0.36">del216-229</text>
<text x="13.1" y="550.4" font-size="9.4" text-anchor="start" fill="#000" stroke="#000" stroke-width="0.36">5.</text>
<text x="31.2" y="550.4" font-size="9.4" text-anchor="start" fill="#000" textLength="25.7" lengthAdjust="spacingAndGlyphs" stroke="#000" stroke-width="0.36">J4/4.1</text>
<text x="287.8" y="435.8" font-size="9.4" text-anchor="start" fill="#000" stroke="#000" stroke-width="0.36">6.</text>
<text x="305.6" y="435.8" font-size="9.4" text-anchor="start" fill="#000" textLength="33" lengthAdjust="spacingAndGlyphs" stroke="#000" stroke-width="0.36">P4.1 wt</text>
<text x="287.8" y="480.8" font-size="9.4" text-anchor="start" fill="#000" stroke="#000" stroke-width="0.36">7.</text>
<text x="305.6" y="480.8" font-size="9.4" text-anchor="start" fill="#000" textLength="30.7" lengthAdjust="spacingAndGlyphs" stroke="#000" stroke-width="0.36">P4.1(lt)</text>
<text x="287.8" y="513.2" font-size="9.4" text-anchor="start" fill="#000" stroke="#000" stroke-width="0.36">8.</text>
<text x="305.6" y="513.2" font-size="9.4" text-anchor="start" fill="#000" textLength="31.5" lengthAdjust="spacingAndGlyphs" stroke="#000" stroke-width="0.36">P4.1(rt)</text>
<text x="287.8" y="546.7" font-size="9.4" text-anchor="start" fill="#000" stroke="#000" stroke-width="0.36">9.</text>
<text x="305.6" y="546.7" font-size="9.4" text-anchor="start" fill="#000" textLength="38.3" lengthAdjust="spacingAndGlyphs" stroke="#000" stroke-width="0.36">P4.1(ltrt)</text>
<text x="242.2" y="401.7" font-size="9" text-anchor="start" fill="#000" textLength="26.3" lengthAdjust="spacingAndGlyphs" stroke="#000" stroke-width="0.36">Activity</text>
<text x="467.5" y="402.2" font-size="9" text-anchor="start" fill="#000" textLength="26.3" lengthAdjust="spacingAndGlyphs" stroke="#000" stroke-width="0.36">Activity</text>
<text x="257.9" y="434.8" font-size="10" text-anchor="middle" fill="#000" textLength="16" lengthAdjust="spacingAndGlyphs" stroke="#000" stroke-width="0.36">+++</text>
<text x="257.9" y="472.8" font-size="10" text-anchor="middle" fill="#000" textLength="16" lengthAdjust="spacingAndGlyphs" stroke="#000" stroke-width="0.36">+++</text>
<text x="257.9" y="507.9" font-size="10" text-anchor="middle" fill="#000" textLength="16" lengthAdjust="spacingAndGlyphs" stroke="#000" stroke-width="0.36">+++</text>
<text x="257.9" y="527.8" font-size="10" text-anchor="middle" fill="#000" stroke="#000" stroke-width="0.36">-</text>
<text x="257.9" y="550.8" font-size="10" text-anchor="middle" fill="#000" stroke="#000" stroke-width="0.36">-</text>
<text x="483.8" y="438" font-size="10" text-anchor="middle" fill="#000" textLength="16" lengthAdjust="spacingAndGlyphs" stroke="#000" stroke-width="0.36">+++</text>
<text x="483.8" y="475.8" font-size="10" text-anchor="middle" fill="#000" stroke="#000" stroke-width="0.36">-</text>
<text x="483.8" y="509.4" font-size="10" text-anchor="middle" fill="#000" stroke="#000" stroke-width="0.36">-</text>
<text x="483.8" y="543.3" font-size="10" text-anchor="middle" fill="#000" stroke="#000" stroke-width="0.36">+</text>
<text x="115.4" y="416.6" font-size="8.4" text-anchor="start" fill="#000" textLength="16.1" lengthAdjust="spacingAndGlyphs" stroke="#000" stroke-width="0.36">187</text>
<text x="141.5" y="416.6" font-size="8.4" text-anchor="start" fill="#000" textLength="15.4" lengthAdjust="spacingAndGlyphs" stroke="#000" stroke-width="0.36">191</text>
<path d="M123,418.3V421M149.5,418.3V421M123.5,442.3V445.8M149.5,442.3V445.8" stroke="#000" stroke-width="0.9"/>
<text x="112" y="430" font-size="9.0" text-anchor="start" fill="#000" textLength="47.5" lengthAdjust="spacingAndGlyphs" stroke="#000" stroke-width="0.36">5'UGGCC3'</text>
<path d="M123.55,431.70h1.5v1.3h-1.5zM129.05,431.70h1.5v1.3h-1.5zM134.75,431.70h1.5v1.3h-1.5zM140.85,431.70h1.5v1.3h-1.5zM146.45,431.70h1.5v1.3h-1.5z" fill="#000"/>
<text x="120.8" y="440.3" font-size="9.0" text-anchor="start" fill="#000" textLength="30.7" lengthAdjust="spacingAndGlyphs" stroke="#000" stroke-width="0.36">ACCGG</text>
<text x="118.2" y="455" font-size="8.4" text-anchor="start" fill="#000" textLength="10.3" lengthAdjust="spacingAndGlyphs" stroke="#000" stroke-width="0.36">37</text>
<text x="144.6" y="455" font-size="8.4" text-anchor="start" fill="#000" textLength="10" lengthAdjust="spacingAndGlyphs" stroke="#000" stroke-width="0.36">33</text>
<text x="112" y="469.5" font-size="9.0" text-anchor="start" fill="#000" textLength="48.5" lengthAdjust="spacingAndGlyphs" stroke="#000" stroke-width="0.36">5'UGGCC3'</text>
<path d="M124.10,471.20h2v1.2h-2zM128.90,471.20h2v1.2h-2zM133.50,471.20h2v1.2h-2zM139.60,471.20h2v1.2h-2zM145.00,471.20h2v1.2h-2z" fill="#000"/>
<circle cx="123.6" cy="476.6" r="3.6" fill="#000"/>
<text x="127.6" y="479.9" font-size="9.0" text-anchor="start" fill="#000" textLength="24.8" lengthAdjust="spacingAndGlyphs" stroke="#000" stroke-width="0.36">CCGG</text>
<text x="105.8" y="491.5" font-size="8.4" text-anchor="start" fill="#000" textLength="16.9" lengthAdjust="spacingAndGlyphs" stroke="#000" stroke-width="0.36">216</text>
<text x="192.8" y="491.5" font-size="8.4" text-anchor="start" fill="#000" textLength="17.2" lengthAdjust="spacingAndGlyphs" stroke="#000" stroke-width="0.36">229</text>
<path d="M114.5,494V497.4M201.5,494V497.4" stroke="#000" stroke-width="0.9"/>
<text x="90.8" y="506.9" font-size="9.0" text-anchor="start" fill="#000" textLength="134.6" lengthAdjust="spacingAndGlyphs" stroke="#000" stroke-width="0.36">5'GCGGCGGGUCGCCUGCCC3'</text>
<text x="90.8" y="528.2" font-size="9.0" text-anchor="start" fill="#000" textLength="20.6" lengthAdjust="spacingAndGlyphs" stroke="#000" stroke-width="0.36">5'GC</text>
<line x1="112.5" y1="525.6" x2="204.4" y2="525.6" stroke="#000" stroke-width="0.9" stroke-dasharray="2.3,0.9"/>
<text x="204.6" y="528.2" font-size="9.0" text-anchor="start" fill="#000" textLength="20.6" lengthAdjust="spacingAndGlyphs" stroke="#000" stroke-width="0.36">CC3'</text>
<line x1="156.1" y1="509.7" x2="156.1" y2="517.2" stroke="#000" stroke-width="1.5"/><path d="M153.4,516.2 L158.8,516.2 L156.1,521.2 Z" fill="#000"/>
<line x1="156.1" y1="528.8" x2="156.1" y2="535.7" stroke="#000" stroke-width="1.5"/><path d="M153.4,534.7 L158.8,534.7 L156.1,539.7 Z" fill="#000"/>
<text x="92.7" y="550.5" font-size="9.0" text-anchor="start" fill="#000" textLength="27.5" lengthAdjust="spacingAndGlyphs" stroke="#000" stroke-width="0.36">5'GCG</text>
<text x="120.8" y="550.5" font-size="9.0" font-weight="bold" text-anchor="start" fill="#000" textLength="44.2" lengthAdjust="spacingAndGlyphs" stroke="#000" stroke-width="1.15" stroke-linejoin="round">CGCCCAG</text>
<text x="165.6" y="550.5" font-size="9.0" text-anchor="start" fill="#000" textLength="59.8" lengthAdjust="spacingAndGlyphs" stroke="#000" stroke-width="0.36">GCCUGCCC3'</text>
<text x="362.8" y="417" font-size="8.4" text-anchor="start" fill="#000" textLength="19" lengthAdjust="spacingAndGlyphs" stroke="#000" stroke-width="0.36">222</text>
<text x="425" y="417" font-size="8.4" text-anchor="start" fill="#000" textLength="17.4" lengthAdjust="spacingAndGlyphs" stroke="#000" stroke-width="0.36">231</text>
<path d="M372.3,418.8V422.5M433.7,418.8V422.5M371.4,443.3V447.6M435,443.3V447.6" stroke="#000" stroke-width="0.9"/>
<text x="361.7" y="430.7" font-size="9.0" text-anchor="start" fill="#000" textLength="83.9" lengthAdjust="spacingAndGlyphs" stroke="#000" stroke-width="0.36">5'UCGCCU GCCC3'</text>
<path d="M387.75,432.70h1.5v1.3h-1.5zM393.85,432.70h1.5v1.3h-1.5zM399.95,432.70h1.5v1.3h-1.5zM405.95,432.70h1.5v1.3h-1.5zM416.35,432.70h1.5v1.3h-1.5zM422.35,432.70h1.5v1.3h-1.5zM428.45,432.70h1.5v1.3h-1.5zM434.55,432.70h1.5v1.3h-1.5z" fill="#000"/>
<text x="367.8" y="440.2" font-size="9.0" text-anchor="start" fill="#000" textLength="69.2" lengthAdjust="spacingAndGlyphs" stroke="#000" stroke-width="0.36">CUUGGA CGGG</text>
<line x1="404" y1="441" x2="413" y2="441" stroke="#000" stroke-width="0.8"/>
<text x="407.2" y="448.4" font-size="9.0" text-anchor="start" fill="#000" textLength="6" lengthAdjust="spacingAndGlyphs" stroke="#000" stroke-width="0.36">G</text>
<text x="362" y="458" font-size="8.4" text-anchor="start" fill="#000" textLength="17.4" lengthAdjust="spacingAndGlyphs" stroke="#000" stroke-width="0.36">352</text>
<text x="426" y="458" font-size="8.4" text-anchor="start" fill="#000" textLength="16.6" lengthAdjust="spacingAndGlyphs" stroke="#000" stroke-width="0.36">341</text>
<text x="361.5" y="473.2" font-size="9.0" text-anchor="start" fill="#000" textLength="19" lengthAdjust="spacingAndGlyphs" stroke="#000" stroke-width="0.36">5'UC</text>
<text x="380.5" y="473.2" font-size="9.0" font-weight="bold" text-anchor="start" fill="#000" textLength="30.3" lengthAdjust="spacingAndGlyphs" stroke="#000" stroke-width="1.15" stroke-linejoin="round">UGGA</text>
<text x="412.5" y="473.2" font-size="9.0" font-weight="bold" text-anchor="start" fill="#000" textLength="12.1" lengthAdjust="spacingAndGlyphs" stroke="#000" stroke-width="1.15" stroke-linejoin="round">CG</text>
<text x="424.6" y="473.2" font-size="9.0" text-anchor="start" fill="#000" textLength="19.9" lengthAdjust="spacingAndGlyphs" stroke="#000" stroke-width="0.36">CC3'</text>
<path d="M429.85,475.60h1.3v1.3h-1.3zM435.85,475.60h1.3v1.3h-1.3z" fill="#000"/>
<text x="369" y="484.1" font-size="9.0" text-anchor="start" fill="#000" textLength="70" lengthAdjust="spacingAndGlyphs" stroke="#000" stroke-width="0.36">CUUGGA CGGG</text>
<line x1="404" y1="484.9" x2="413" y2="484.9" stroke="#000" stroke-width="0.8"/>
<text x="408.2" y="490.5" font-size="9.0" text-anchor="start" fill="#000" textLength="6.8" lengthAdjust="spacingAndGlyphs" stroke="#000" stroke-width="0.36">G</text>
<text x="361.7" y="506.7" font-size="9.0" text-anchor="start" fill="#000" textLength="83.9" lengthAdjust="spacingAndGlyphs" stroke="#000" stroke-width="0.36">5'UCGCCU GCCC3'</text>
<path d="M429.85,509.00h1.3v1.3h-1.3zM435.85,509.00h1.3v1.3h-1.3z" fill="#000"/>
<text x="369.5" y="517" font-size="9.0" text-anchor="start" fill="#000" textLength="12.5" lengthAdjust="spacingAndGlyphs" stroke="#000" stroke-width="0.36">CU</text>
<text x="382" y="517" font-size="9.0" font-weight="bold" text-anchor="start" fill="#000" textLength="27.5" lengthAdjust="spacingAndGlyphs" stroke="#000" stroke-width="1.15" stroke-linejoin="round">GCCU</text>
<text x="412.5" y="517" font-size="9.0" font-weight="bold" text-anchor="start" fill="#000" textLength="12.5" lengthAdjust="spacingAndGlyphs" stroke="#000" stroke-width="1.15" stroke-linejoin="round">GC</text>
<text x="425" y="517" font-size="9.0" text-anchor="start" fill="#000" textLength="14" lengthAdjust="spacingAndGlyphs" stroke="#000" stroke-width="0.36">GG</text>
<line x1="404" y1="517.8" x2="413" y2="517.8" stroke="#000" stroke-width="0.8"/>
<text x="408.2" y="525" font-size="9.0" text-anchor="start" fill="#000" textLength="6.8" lengthAdjust="spacingAndGlyphs" stroke="#000" stroke-width="0.36">G</text>
<text x="362.8" y="540" font-size="9.0" text-anchor="start" fill="#000" textLength="19" lengthAdjust="spacingAndGlyphs" stroke="#000" stroke-width="0.36">5'UC</text>
<text x="381.8" y="540" font-size="9.0" font-weight="bold" text-anchor="start" fill="#000" textLength="30.3" lengthAdjust="spacingAndGlyphs" stroke="#000" stroke-width="1.15" stroke-linejoin="round">UGGA</text>
<text x="413.8" y="540" font-size="9.0" font-weight="bold" text-anchor="start" fill="#000" textLength="12.1" lengthAdjust="spacingAndGlyphs" stroke="#000" stroke-width="1.15" stroke-linejoin="round">CG</text>
<text x="425.9" y="540" font-size="9.0" text-anchor="start" fill="#000" textLength="19.5" lengthAdjust="spacingAndGlyphs" stroke="#000" stroke-width="0.36">CC3'</text>
<path d="M387.85,542.20h1.3v1.3h-1.3zM393.95,542.20h1.3v1.3h-1.3zM400.05,542.20h1.3v1.3h-1.3zM406.05,542.20h1.3v1.3h-1.3zM416.45,542.20h1.3v1.3h-1.3zM422.45,542.20h1.3v1.3h-1.3zM429.85,542.20h1.3v1.3h-1.3zM435.85,542.20h1.3v1.3h-1.3z" fill="#000"/>
<text x="370.2" y="551.1" font-size="9.0" text-anchor="start" fill="#000" textLength="12.5" lengthAdjust="spacingAndGlyphs" stroke="#000" stroke-width="0.36">CU</text>
<text x="382.7" y="551.1" font-size="9.0" font-weight="bold" text-anchor="start" fill="#000" textLength="27.5" lengthAdjust="spacingAndGlyphs" stroke="#000" stroke-width="1.15" stroke-linejoin="round">GCCU</text>
<text x="413.2" y="551.1" font-size="9.0" font-weight="bold" text-anchor="start" fill="#000" textLength="12.5" lengthAdjust="spacingAndGlyphs" stroke="#000" stroke-width="1.15" stroke-linejoin="round">GC</text>
<text x="425.7" y="551.1" font-size="9.0" text-anchor="start" fill="#000" textLength="14" lengthAdjust="spacingAndGlyphs" stroke="#000" stroke-width="0.36">GG</text>
<line x1="405" y1="551.9" x2="414" y2="551.9" stroke="#000" stroke-width="0.8"/>
<text x="409" y="559" font-size="9.0" text-anchor="start" fill="#000" textLength="6.8" lengthAdjust="spacingAndGlyphs" stroke="#000" stroke-width="0.36">G</text>
<text x="14.2" y="574.4" font-size="9" text-anchor="start" fill="#000" textLength="280" lengthAdjust="spacingAndGlyphs" stroke="#000" stroke-width="0.36">Activity: Telomerase enzymatic activity relative to wild-type level (arbitrary units)</text>
</svg></body></html>
